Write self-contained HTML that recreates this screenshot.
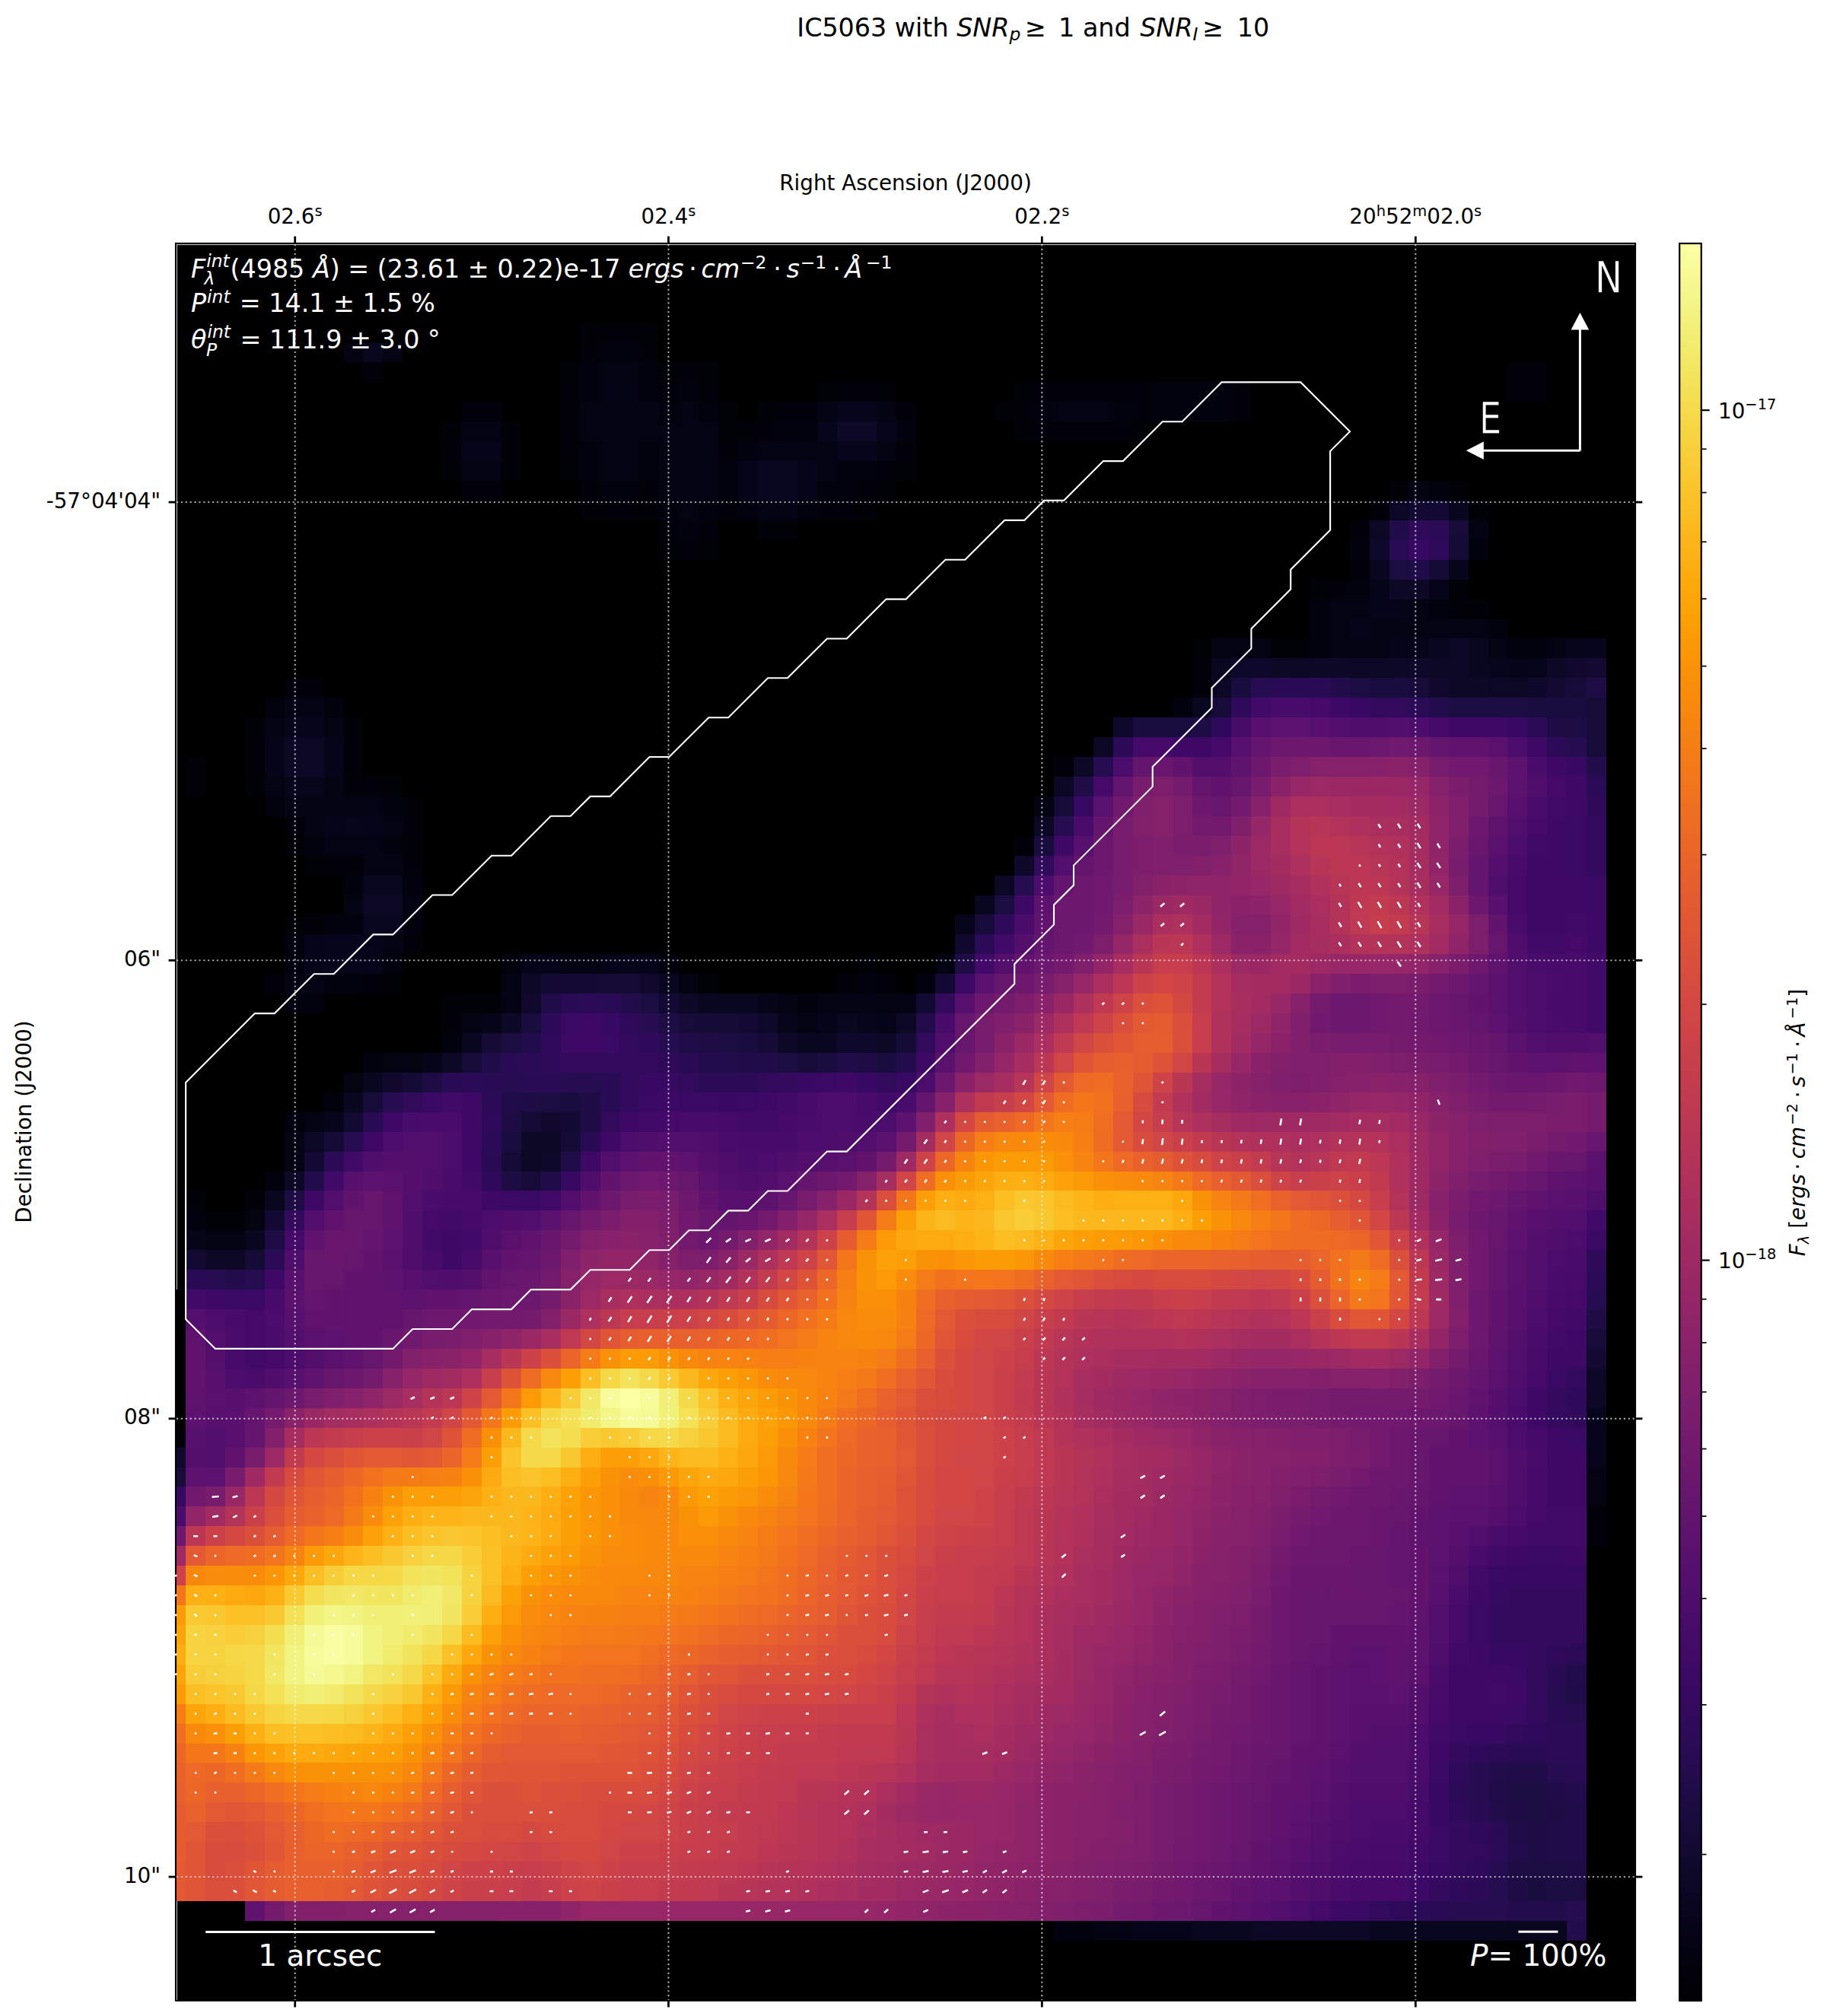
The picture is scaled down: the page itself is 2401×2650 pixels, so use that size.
<!DOCTYPE html>
<html><head><meta charset="utf-8"><title>IC5063 polarization map</title>
<style>html,body{margin:0;padding:0;background:#fff}svg{display:block}</style></head>
<body>
<svg width="2401" height="2650" viewBox="0 0 2401 2650">
<rect x="0" y="0" width="2401" height="2650" fill="#ffffff"/>
<rect x="229.9" y="318.9" width="1920.2" height="2311.9" fill="#000000"/>
<defs><clipPath id="axclip"><rect x="232.0" y="321.0" width="1917.0" height="2308.0"/></clipPath></defs>
<g clip-path="url(#axclip)"><g transform="translate(218.20 320.85) scale(25.930)" shape-rendering="crispEdges">
<path fill="#010108" d="M21 4h1v1h-1zM24 4h1v1h-1zM20 6h1v1h-1zM25 6h1v1h-1zM27 6h1v1h-1zM33 7h1v1h-1zM36 7h1v1h-1zM43 7h1v1h-1zM28 8h1v1h-1zM30 8h1v1h-1zM42 8h1v1h-1zM14 9h1v1h-1zM17 9h1v1h-1zM28 9h2v1h-2zM43 9h1v1h-1zM49 9h1v1h-1zM14 11h1v1h-1zM17 11h1v1h-1zM20 11h1v1h-1zM37 11h1v1h-1zM36 12h1v1h-1zM65 12h1v1h-1zM21 13h1v1h-1zM24 13h1v1h-1zM35 13h1v1h-1zM66 13h1v1h-1zM30 14h2v1h-2zM25 15h1v1h-1zM27 15h1v1h-1zM58 17h1v1h-1zM65 17h1v1h-1zM66 18h1v1h-1zM52 20h1v1h-1zM56 20h2v1h-2zM4 24h1v1h-1zM9 24h1v1h-1zM4 27h1v1h-1zM11 27h1v1h-1zM12 28h1v1h-1zM6 30h1v1h-1zM12 30h1v1h-1zM7 31h1v1h-1zM6 34h1v1h-1zM35 36h1v1h-1zM11 37h1v1h-1zM27 37h1v1h-1zM14 38h3v1h-3zM1 48h1v1h-1zM2 49h2v1h-2z"/>
<path fill="#02010a" d="M22 4h2v1h-2zM21 5h1v1h-1zM24 5h1v1h-1zM10 6h1v1h-1zM26 6h1v1h-1zM68 6h2v1h-2zM20 7h1v1h-1zM25 7h1v1h-1zM27 7h1v1h-1zM34 7h2v1h-2zM44 7h6v1h-6zM54 7h1v1h-1zM68 7h2v1h-2zM15 8h2v1h-2zM20 8h1v1h-1zM31 8h2v1h-2zM37 8h1v1h-1zM43 8h1v1h-1zM49 8h1v1h-1zM54 8h1v1h-1zM20 9h1v1h-1zM30 9h1v1h-1zM44 9h5v1h-5zM14 10h1v1h-1zM17 10h1v1h-1zM20 10h1v1h-1zM28 10h1v1h-1zM37 10h1v1h-1zM36 11h1v1h-1zM15 12h2v1h-2zM21 12h1v1h-1zM24 12h1v1h-1zM35 12h1v1h-1zM62 12h1v1h-1zM22 13h2v1h-2zM28 13h1v1h-1zM33 13h2v1h-2zM61 13h1v1h-1zM25 14h1v1h-1zM27 14h1v1h-1zM60 14h1v1h-1zM26 15h1v1h-1zM60 16h1v1h-1zM59 17h1v1h-1zM65 18h1v1h-1zM52 21h1v1h-1zM6 22h2v1h-2zM52 22h1v1h-1zM4 25h1v1h-1zM9 25h1v1h-1zM1 26h1v1h-1zM4 26h1v1h-1zM9 26h1v1h-1zM45 26h1v1h-1zM1 27h1v1h-1zM9 27h2v1h-2zM6 29h1v1h-1zM12 29h1v1h-1zM43 30h1v1h-1zM8 31h2v1h-2zM12 31h1v1h-1zM7 34h1v1h-1zM12 35h1v1h-1zM5 37h1v1h-1zM10 37h1v1h-1zM34 37h1v1h-1zM36 37h1v1h-1zM14 39h1v1h-1zM4 48h1v1h-1zM0 60h1v1h-1zM72 64h1v1h-1zM72 65h1v1h-1z"/>
<path fill="#02020e" d="M22 5h2v1h-2zM21 6h1v1h-1zM24 6h1v1h-1zM21 7h1v1h-1zM24 7h1v1h-1zM26 7h1v1h-1zM50 7h4v1h-4zM25 8h1v1h-1zM27 8h1v1h-1zM44 8h1v1h-1zM48 8h1v1h-1zM50 8h4v1h-4zM31 9h2v1h-2zM37 9h1v1h-1zM21 10h1v1h-1zM24 10h1v1h-1zM29 10h1v1h-1zM21 11h1v1h-1zM24 11h1v1h-1zM28 11h1v1h-1zM34 11h2v1h-2zM22 12h2v1h-2zM28 12h1v1h-1zM33 12h2v1h-2zM64 12h1v1h-1zM25 13h1v1h-1zM27 13h1v1h-1zM29 13h1v1h-1zM32 13h1v1h-1zM26 14h1v1h-1zM60 15h1v1h-1zM66 15h1v1h-1zM60 17h1v1h-1zM58 18h1v1h-1zM64 18h1v1h-1zM58 19h1v1h-1zM67 19h1v1h-1zM58 20h1v1h-1zM68 20h2v1h-2zM5 23h1v1h-1zM8 23h1v1h-1zM51 23h1v1h-1zM5 28h1v1h-1zM11 28h1v1h-1zM7 30h1v1h-1zM11 30h1v1h-1zM9 32h1v1h-1zM12 32h1v1h-1zM8 34h2v1h-2zM12 34h1v1h-1zM6 35h1v1h-1zM6 36h1v1h-1zM11 36h1v1h-1zM17 36h1v1h-1zM25 36h1v1h-1zM8 37h2v1h-2zM35 37h1v1h-1zM38 37h1v1h-1zM6 38h2v1h-2zM32 38h1v1h-1zM14 40h1v1h-1zM10 41h1v1h-1zM8 43h1v1h-1zM6 44h1v1h-1zM5 47h1v1h-1zM1 49h1v1h-1zM45 85h2v1h-2z"/>
<path fill="#040312" d="M9 5h1v1h-1zM11 5h1v1h-1zM22 6h2v1h-2zM21 8h1v1h-1zM24 8h1v1h-1zM26 8h1v1h-1zM45 8h3v1h-3zM21 9h1v1h-1zM24 9h2v1h-2zM27 9h1v1h-1zM25 10h1v1h-1zM27 10h1v1h-1zM32 10h1v1h-1zM22 11h2v1h-2zM25 11h1v1h-1zM27 11h1v1h-1zM33 11h1v1h-1zM25 12h1v1h-1zM27 12h1v1h-1zM63 12h1v1h-1zM26 13h1v1h-1zM66 14h1v1h-1zM53 20h1v1h-1zM55 20h1v1h-1zM5 24h1v1h-1zM8 24h1v1h-1zM5 27h1v1h-1zM8 27h1v1h-1zM44 28h1v1h-1zM7 29h1v1h-1zM11 29h1v1h-1zM9 33h1v1h-1zM12 33h1v1h-1zM20 36h2v1h-2zM39 36h1v1h-1zM17 37h1v1h-1zM26 37h1v1h-1zM31 38h1v1h-1zM33 38h1v1h-1zM36 38h1v1h-1zM15 39h1v1h-1zM11 41h2v1h-2zM9 42h1v1h-1zM4 49h1v1h-1zM2 50h2v1h-2zM72 63h1v1h-1zM47 85h1v1h-1z"/>
<path fill="#040314" d="M22 7h2v1h-2zM22 8h2v1h-2zM33 8h1v1h-1zM36 8h1v1h-1zM15 9h2v1h-2zM22 9h2v1h-2zM26 9h1v1h-1zM22 10h2v1h-2zM26 10h1v1h-1zM30 10h2v1h-2zM33 10h1v1h-1zM36 10h1v1h-1zM15 11h2v1h-2zM26 11h1v1h-1zM26 12h1v1h-1zM30 13h2v1h-2zM59 18h2v1h-2zM63 18h1v1h-1zM59 19h1v1h-1zM61 19h6v1h-6zM54 20h1v1h-1zM59 20h3v1h-3zM67 20h1v1h-1zM70 20h1v1h-1zM6 23h2v1h-2zM6 28h5v1h-5zM8 30h3v1h-3zM10 31h2v1h-2zM11 35h1v1h-1zM6 37h2v1h-2zM17 38h1v1h-1zM34 38h2v1h-2zM37 38h1v1h-1zM32 39h1v1h-1zM7 44h1v1h-1zM6 45h1v1h-1zM6 46h1v1h-1zM72 62h1v1h-1zM48 85h1v1h-1z"/>
<path fill="#060419" d="M15 10h2v1h-2zM29 11h1v1h-1zM32 11h1v1h-1zM29 12h1v1h-1zM32 12h1v1h-1zM61 17h1v1h-1zM64 17h1v1h-1zM61 18h2v1h-2zM60 19h1v1h-1zM62 20h1v1h-1zM68 21h1v1h-1zM5 25h1v1h-1zM8 25h1v1h-1zM5 26h1v1h-1zM8 26h1v1h-1zM8 29h1v1h-1zM10 29h1v1h-1zM7 35h1v1h-1zM10 35h1v1h-1zM7 36h1v1h-1zM10 36h1v1h-1zM18 36h2v1h-2zM22 36h1v1h-1zM24 36h1v1h-1zM30 38h1v1h-1zM16 39h1v1h-1zM33 39h1v1h-1zM36 39h1v1h-1zM13 41h1v1h-1zM1 50h1v1h-1zM49 85h3v1h-3z"/>
<path fill="#07051b" d="M34 8h2v1h-2zM33 9h1v1h-1zM36 9h1v1h-1zM34 10h2v1h-2zM65 16h1v1h-1zM63 20h1v1h-1zM71 20h2v1h-2zM67 21h1v1h-1zM69 21h1v1h-1zM6 24h2v1h-2zM6 27h2v1h-2zM9 29h1v1h-1zM40 34h1v1h-1zM8 35h2v1h-2zM8 36h2v1h-2zM23 36h1v1h-1zM31 39h1v1h-1zM35 39h1v1h-1zM8 44h1v1h-1zM72 59h1v1h-1zM72 60h1v1h-1zM72 61h1v1h-1z"/>
<path fill="#09061f" d="M10 5h1v1h-1zM30 11h2v1h-2zM30 12h2v1h-2zM65 13h1v1h-1zM61 16h1v1h-1zM64 20h1v1h-1zM66 20h1v1h-1zM53 21h1v1h-1zM66 21h1v1h-1zM52 23h1v1h-1zM10 32h2v1h-2zM41 33h1v1h-1zM10 34h2v1h-2zM25 37h1v1h-1zM27 38h3v1h-3zM34 39h1v1h-1zM15 40h1v1h-1zM32 40h2v1h-2zM10 42h1v1h-1zM9 43h1v1h-1zM5 48h1v1h-1zM4 50h1v1h-1zM52 85h3v1h-3zM61 85h10v1h-10z"/>
<path fill="#0b0724" d="M62 13h1v1h-1zM61 14h1v1h-1zM65 20h1v1h-1zM57 21h1v1h-1zM60 21h2v1h-2zM53 22h1v1h-1zM67 22h2v1h-2zM6 25h2v1h-2zM47 25h1v1h-1zM6 26h2v1h-2zM45 27h1v1h-1zM44 29h1v1h-1zM42 32h1v1h-1zM10 33h2v1h-2zM7 45h1v1h-1zM19 45h1v1h-1zM18 46h1v1h-1zM72 58h1v1h-1zM55 85h1v1h-1z"/>
<path fill="#0c0826" d="M34 9h2v1h-2zM62 17h2v1h-2zM56 21h1v1h-1zM58 21h2v1h-2zM62 21h1v1h-1zM64 21h2v1h-2zM70 21h1v1h-1zM65 22h2v1h-2zM46 26h1v1h-1zM18 37h1v1h-1zM26 38h1v1h-1zM17 39h1v1h-1zM37 39h1v1h-1zM31 40h1v1h-1zM36 40h1v1h-1zM14 41h1v1h-1zM18 45h1v1h-1zM6 47h1v1h-1zM2 51h2v1h-2zM72 57h1v1h-1zM56 85h5v1h-5z"/>
<path fill="#0e092b" d="M61 15h1v1h-1zM54 21h2v1h-2zM63 21h1v1h-1zM69 22h1v1h-1zM48 24h1v1h-1zM43 31h1v1h-1zM30 39h1v1h-1zM34 40h2v1h-2zM19 46h1v1h-1z"/>
<path fill="#10092d" d="M71 21h1v1h-1zM64 22h1v1h-1zM40 35h1v1h-1zM24 37h1v1h-1zM18 38h1v1h-1zM11 42h1v1h-1zM19 44h1v1h-1zM0 61h1v1h-1z"/>
<path fill="#120a32" d="M63 13h2v1h-2zM72 21h1v1h-1zM70 22h1v1h-1zM19 37h3v1h-3zM39 37h1v1h-1zM25 38h1v1h-1zM38 38h1v1h-1zM29 39h1v1h-1zM9 44h1v1h-1zM20 44h1v1h-1zM7 46h1v1h-1zM5 49h1v1h-1zM1 51h1v1h-1zM72 56h1v1h-1z"/>
<path fill="#150b37" d="M65 15h1v1h-1zM64 16h1v1h-1zM22 37h2v1h-2zM27 39h2v1h-2zM16 40h1v1h-1zM30 40h1v1h-1zM37 40h1v1h-1zM12 42h1v1h-1zM18 44h1v1h-1zM8 45h1v1h-1zM20 45h1v1h-1zM17 46h1v1h-1zM4 51h1v1h-1z"/>
<path fill="#160b39" d="M65 14h1v1h-1zM63 22h1v1h-1zM71 22h1v1h-1zM53 23h1v1h-1zM72 23h1v1h-1zM72 24h1v1h-1zM72 25h1v1h-1zM45 28h1v1h-1zM41 34h1v1h-1zM26 39h1v1h-1zM15 41h1v1h-1zM32 41h1v1h-1zM10 43h1v1h-1zM18 47h1v1h-1zM72 55h1v1h-1zM0 62h1v1h-1z"/>
<path fill="#190c3e" d="M54 22h1v1h-1zM61 22h2v1h-2zM69 23h3v1h-3zM49 24h3v1h-3zM44 30h1v1h-1zM18 39h1v1h-1zM29 40h1v1h-1zM33 41h1v1h-1zM36 41h1v1h-1zM20 43h1v1h-1zM17 45h1v1h-1zM69 83h1v1h-1z"/>
<path fill="#1b0c41" d="M62 16h1v1h-1zM60 22h1v1h-1zM65 23h4v1h-4zM71 24h1v1h-1zM42 33h1v1h-1zM24 38h1v1h-1zM17 40h1v1h-1zM28 40h1v1h-1zM31 41h1v1h-1zM19 43h1v1h-1zM68 78h2v1h-2zM69 79h1v1h-1zM69 82h2v1h-2zM70 83h2v1h-2z"/>
<path fill="#1e0c45" d="M72 22h1v1h-1zM52 24h1v1h-1zM70 24h1v1h-1zM40 36h1v1h-1zM25 39h1v1h-1zM27 40h1v1h-1zM35 41h1v1h-1zM13 42h1v1h-1zM18 43h1v1h-1zM21 43h1v1h-1zM17 44h1v1h-1zM21 44h1v1h-1zM17 47h1v1h-1zM6 48h1v1h-1zM5 50h1v1h-1zM72 54h1v1h-1zM68 79h1v1h-1zM70 79h1v1h-1zM69 80h1v1h-1zM69 81h1v1h-1zM68 82h1v1h-1zM71 82h1v1h-1zM68 83h1v1h-1z"/>
<path fill="#210c4a" d="M62 14h1v1h-1zM63 16h1v1h-1zM46 27h1v1h-1zM19 38h1v1h-1zM26 40h1v1h-1zM16 41h1v1h-1zM29 41h2v1h-2zM34 41h1v1h-1zM17 43h1v1h-1zM20 46h1v1h-1zM19 47h1v1h-1zM71 73h1v1h-1zM68 77h2v1h-2zM67 78h1v1h-1zM70 78h1v1h-1zM71 79h1v1h-1zM68 80h1v1h-1zM70 80h2v1h-2zM70 81h2v1h-2z"/>
<path fill="#230c4c" d="M59 22h1v1h-1zM64 23h1v1h-1zM72 26h1v1h-1zM23 38h1v1h-1zM38 39h1v1h-1zM18 40h1v1h-1zM27 41h2v1h-2zM37 41h1v1h-1zM7 47h1v1h-1zM3 52h1v1h-1zM71 72h1v1h-1zM67 77h1v1h-1zM71 78h1v1h-1zM67 79h1v1h-1zM68 81h1v1h-1zM68 84h3v1h-3zM71 85h1v1h-1z"/>
<path fill="#260c51" d="M55 22h1v1h-1zM71 25h1v1h-1zM47 26h1v1h-1zM45 29h1v1h-1zM43 32h1v1h-1zM24 39h1v1h-1zM25 40h1v1h-1zM17 42h1v1h-1zM20 42h2v1h-2zM11 43h1v1h-1zM9 45h1v1h-1zM2 52h1v1h-1zM4 52h1v1h-1zM72 53h1v1h-1zM70 73h1v1h-1zM71 74h1v1h-1zM66 77h1v1h-1zM70 77h1v1h-1zM66 78h1v1h-1zM67 82h1v1h-1zM67 83h1v1h-1zM65 84h3v1h-3zM71 84h1v1h-1z"/>
<path fill="#290b55" d="M62 15h1v1h-1zM56 22h3v1h-3zM20 38h1v1h-1zM22 38h1v1h-1zM17 41h1v1h-1zM26 41h1v1h-1zM14 42h1v1h-1zM16 42h1v1h-1zM18 42h2v1h-2zM22 42h1v1h-1zM22 43h1v1h-1zM10 44h1v1h-1zM21 45h1v1h-1zM16 46h1v1h-1zM1 52h1v1h-1zM70 72h1v1h-1zM70 74h1v1h-1zM68 76h2v1h-2zM71 77h1v1h-1zM66 79h1v1h-1zM67 80h1v1h-1zM64 84h1v1h-1z"/>
<path fill="#2b0b57" d="M64 14h1v1h-1zM63 23h1v1h-1zM69 24h1v1h-1zM48 25h1v1h-1zM70 25h1v1h-1zM72 27h1v1h-1zM41 35h1v1h-1zM21 38h1v1h-1zM19 39h1v1h-1zM18 41h1v1h-1zM15 42h1v1h-1zM27 42h3v1h-3zM16 43h1v1h-1zM16 45h1v1h-1zM8 46h1v1h-1zM5 51h1v1h-1zM72 52h1v1h-1zM71 71h1v1h-1zM70 75h2v1h-2zM67 76h1v1h-1zM70 76h2v1h-2zM65 78h1v1h-1zM67 81h1v1h-1zM66 83h1v1h-1zM63 84h1v1h-1z"/>
<path fill="#2f0a5b" d="M63 14h1v1h-1zM64 15h1v1h-1zM54 23h1v1h-1zM53 24h1v1h-1zM72 28h1v1h-1zM42 34h1v1h-1zM23 39h1v1h-1zM19 40h1v1h-1zM24 40h1v1h-1zM19 41h1v1h-1zM25 41h1v1h-1zM16 44h1v1h-1zM16 47h1v1h-1zM72 51h1v1h-1zM71 58h1v1h-1zM70 71h1v1h-1zM69 75h1v1h-1zM66 76h1v1h-1zM65 77h1v1h-1zM65 79h1v1h-1zM66 80h1v1h-1zM66 82h1v1h-1zM65 83h1v1h-1zM62 84h1v1h-1z"/>
<path fill="#310a5c" d="M61 23h2v1h-2zM44 31h1v1h-1zM39 38h1v1h-1zM23 40h1v1h-1zM38 40h1v1h-1zM23 41h2v1h-2zM23 42h1v1h-1zM26 42h1v1h-1zM30 42h1v1h-1zM36 42h1v1h-1zM12 43h1v1h-1zM22 44h1v1h-1zM71 59h1v1h-1zM71 70h1v1h-1zM69 72h1v1h-1zM69 73h1v1h-1zM69 74h1v1h-1zM68 75h1v1h-1zM66 81h1v1h-1zM65 82h1v1h-1z"/>
<path fill="#340a5f" d="M72 29h1v1h-1zM72 30h1v1h-1zM72 31h1v1h-1zM20 41h3v1h-3zM31 42h1v1h-1zM23 43h1v1h-1zM6 49h1v1h-1zM71 57h1v1h-1zM70 58h1v1h-1zM70 59h1v1h-1zM0 63h1v1h-1zM68 68h4v1h-4zM67 69h5v1h-5zM67 70h4v1h-4zM69 71h1v1h-1zM65 76h1v1h-1zM65 80h1v1h-1zM65 81h1v1h-1zM64 83h1v1h-1zM61 84h1v1h-1z"/>
<path fill="#380962" d="M63 15h1v1h-1zM60 23h1v1h-1zM68 24h1v1h-1zM71 26h1v1h-1zM46 28h1v1h-1zM22 39h1v1h-1zM24 42h2v1h-2zM32 42h1v1h-1zM35 42h1v1h-1zM37 42h1v1h-1zM28 43h1v1h-1zM20 47h1v1h-1zM68 67h4v1h-4zM67 68h1v1h-1zM67 71h2v1h-2zM66 75h2v1h-2zM64 78h1v1h-1zM64 79h1v1h-1zM64 82h1v1h-1z"/>
<path fill="#390963" d="M71 29h1v1h-1zM71 30h1v1h-1zM71 31h1v1h-1zM72 32h1v1h-1zM72 33h1v1h-1zM40 37h1v1h-1zM20 39h1v1h-1zM22 40h1v1h-1zM33 42h1v1h-1zM13 43h1v1h-1zM24 43h1v1h-1zM26 43h2v1h-2zM29 43h1v1h-1zM17 48h2v1h-2zM72 50h1v1h-1zM3 53h2v1h-2zM70 57h1v1h-1zM71 60h1v1h-1zM69 66h2v1h-2zM67 67h1v1h-1zM66 69h1v1h-1zM66 70h1v1h-1zM68 72h1v1h-1zM68 74h1v1h-1zM65 75h1v1h-1zM64 77h1v1h-1zM64 80h1v1h-1zM64 81h1v1h-1zM60 84h1v1h-1z"/>
<path fill="#3d0965" d="M52 25h1v1h-1zM69 25h1v1h-1zM70 26h1v1h-1zM71 28h1v1h-1zM70 29h1v1h-1zM45 30h1v1h-1zM70 30h1v1h-1zM70 31h1v1h-1zM70 32h2v1h-2zM43 33h1v1h-1zM69 33h2v1h-2zM69 34h1v1h-1zM72 34h1v1h-1zM72 35h1v1h-1zM21 39h1v1h-1zM20 40h1v1h-1zM38 41h1v1h-1zM34 42h1v1h-1zM15 43h1v1h-1zM25 43h1v1h-1zM30 43h1v1h-1zM10 45h1v1h-1zM21 46h1v1h-1zM7 48h1v1h-1zM14 50h1v1h-1zM5 52h1v1h-1zM71 56h1v1h-1zM70 60h1v1h-1zM71 61h1v1h-1zM71 62h1v1h-1zM71 63h1v1h-1zM68 66h1v1h-1zM71 66h1v1h-1zM66 68h1v1h-1zM66 71h1v1h-1zM68 73h1v1h-1zM65 74h1v1h-1zM59 84h1v1h-1z"/>
<path fill="#3e0966" d="M59 23h1v1h-1zM65 24h3v1h-3zM51 25h1v1h-1zM71 27h1v1h-1zM69 31h1v1h-1zM69 32h1v1h-1zM71 33h1v1h-1zM70 34h1v1h-1zM21 40h1v1h-1zM11 44h1v1h-1zM15 44h1v1h-1zM23 44h1v1h-1zM15 45h1v1h-1zM22 45h1v1h-1zM15 46h1v1h-1zM16 48h1v1h-1zM14 51h1v1h-1zM2 53h1v1h-1zM71 55h1v1h-1zM70 56h1v1h-1zM69 58h1v1h-1zM69 59h1v1h-1zM70 61h1v1h-1zM70 62h1v1h-1zM70 63h1v1h-1zM65 72h3v1h-3zM65 73h2v1h-2zM66 74h2v1h-2zM64 76h1v1h-1zM63 82h1v1h-1zM63 83h1v1h-1z"/>
<path fill="#420a68" d="M55 23h1v1h-1zM70 28h1v1h-1zM69 30h1v1h-1zM71 34h1v1h-1zM42 35h1v1h-1zM69 35h2v1h-2zM41 36h1v1h-1zM72 36h1v1h-1zM72 37h1v1h-1zM72 38h1v1h-1zM72 39h1v1h-1zM14 43h1v1h-1zM31 43h1v1h-1zM36 43h1v1h-1zM24 44h1v1h-1zM29 44h2v1h-2zM9 46h1v1h-1zM8 47h1v1h-1zM15 47h1v1h-1zM19 48h1v1h-1zM14 49h1v1h-1zM72 49h1v1h-1zM13 50h1v1h-1zM15 50h1v1h-1zM1 53h1v1h-1zM71 54h1v1h-1zM70 55h1v1h-1zM4 56h1v1h-1zM70 64h2v1h-2zM69 65h3v1h-3zM67 66h1v1h-1zM66 67h1v1h-1zM65 71h1v1h-1zM67 73h1v1h-1zM64 75h1v1h-1zM63 81h1v1h-1z"/>
<path fill="#450a69" d="M58 23h1v1h-1zM64 24h1v1h-1zM49 25h2v1h-2zM53 25h1v1h-1zM47 27h1v1h-1zM70 27h1v1h-1zM69 29h1v1h-1zM68 32h1v1h-1zM68 33h1v1h-1zM71 35h1v1h-1zM25 44h1v1h-1zM28 44h1v1h-1zM31 44h1v1h-1zM13 49h1v1h-1zM15 49h1v1h-1zM6 50h1v1h-1zM71 53h1v1h-1zM4 54h1v1h-1zM70 54h1v1h-1zM4 55h1v1h-1zM5 56h1v1h-1zM69 57h1v1h-1zM69 60h1v1h-1zM69 62h1v1h-1zM69 63h1v1h-1zM69 64h1v1h-1zM68 65h1v1h-1zM65 69h1v1h-1zM65 70h1v1h-1zM64 74h1v1h-1zM63 79h1v1h-1zM63 80h1v1h-1zM61 82h2v1h-2zM60 83h3v1h-3zM58 84h1v1h-1z"/>
<path fill="#470b6a" d="M56 23h2v1h-2zM54 24h1v1h-1zM68 31h1v1h-1zM70 36h2v1h-2zM71 37h1v1h-1zM70 38h2v1h-2zM39 39h1v1h-1zM71 39h1v1h-1zM32 43h1v1h-1zM35 43h1v1h-1zM12 44h1v1h-1zM26 44h2v1h-2zM29 45h3v1h-3zM14 48h2v1h-2zM13 51h1v1h-1zM15 51h1v1h-1zM71 52h1v1h-1zM5 53h1v1h-1zM70 53h1v1h-1zM3 54h1v1h-1zM3 56h1v1h-1zM69 56h1v1h-1zM69 61h1v1h-1zM64 73h1v1h-1zM63 78h1v1h-1zM61 81h2v1h-2zM60 82h1v1h-1z"/>
<path fill="#4a0c6b" d="M69 26h1v1h-1zM69 28h1v1h-1zM46 29h1v1h-1zM43 34h1v1h-1zM68 34h1v1h-1zM69 36h1v1h-1zM70 37h1v1h-1zM70 39h1v1h-1zM37 43h1v1h-1zM13 44h2v1h-2zM32 44h1v1h-1zM35 44h1v1h-1zM28 45h1v1h-1zM29 46h1v1h-1zM14 47h1v1h-1zM13 48h1v1h-1zM71 51h1v1h-1zM70 52h1v1h-1zM3 55h1v1h-1zM5 55h1v1h-1zM69 55h1v1h-1zM4 57h1v1h-1zM68 59h1v1h-1zM0 64h1v1h-1zM67 65h1v1h-1zM66 66h1v1h-1zM65 68h1v1h-1zM64 72h1v1h-1zM63 77h1v1h-1zM61 80h2v1h-2zM60 81h1v1h-1zM59 82h1v1h-1zM59 83h1v1h-1z"/>
<path fill="#4c0c6b" d="M63 24h1v1h-1zM68 25h1v1h-1zM48 26h1v1h-1zM68 30h1v1h-1zM44 32h1v1h-1zM69 37h1v1h-1zM69 38h1v1h-1zM69 39h1v1h-1zM38 42h1v1h-1zM33 43h2v1h-2zM33 44h2v1h-2zM36 44h1v1h-1zM11 45h1v1h-1zM14 45h1v1h-1zM23 45h1v1h-1zM32 45h2v1h-2zM14 46h1v1h-1zM30 46h1v1h-1zM16 49h1v1h-1zM71 50h1v1h-1zM70 51h1v1h-1zM2 54h1v1h-1zM5 54h1v1h-1zM69 54h1v1h-1zM6 56h1v1h-1zM3 57h1v1h-1zM68 58h1v1h-1zM68 60h1v1h-1zM68 64h1v1h-1zM63 75h1v1h-1zM63 76h1v1h-1zM60 79h3v1h-3zM60 80h1v1h-1zM59 81h1v1h-1zM57 84h1v1h-1z"/>
<path fill="#4f0d6c" d="M60 24h2v1h-2zM69 27h1v1h-1zM67 32h1v1h-1zM68 35h1v1h-1zM39 40h1v1h-1zM70 40h2v1h-2zM24 45h1v1h-1zM27 45h1v1h-1zM34 45h1v1h-1zM10 46h1v1h-1zM28 46h1v1h-1zM31 46h1v1h-1zM13 47h1v1h-1zM21 47h1v1h-1zM29 47h1v1h-1zM72 48h1v1h-1zM12 49h1v1h-1zM17 49h1v1h-1zM12 50h1v1h-1zM16 50h1v1h-1zM70 50h1v1h-1zM6 51h1v1h-1zM12 51h1v1h-1zM14 52h1v1h-1zM69 53h1v1h-1zM5 57h1v1h-1zM68 57h1v1h-1zM68 61h1v1h-1zM68 62h1v1h-1zM68 63h1v1h-1zM65 67h1v1h-1zM64 71h1v1h-1zM60 78h3v1h-3zM59 80h1v1h-1zM58 82h1v1h-1zM58 83h1v1h-1z"/>
<path fill="#520e6d" d="M59 24h1v1h-1zM62 24h1v1h-1zM68 29h1v1h-1zM45 31h1v1h-1zM68 36h1v1h-1zM68 37h1v1h-1zM68 38h1v1h-1zM69 40h1v1h-1zM72 40h1v1h-1zM12 45h2v1h-2zM25 45h2v1h-2zM35 45h1v1h-1zM13 46h1v1h-1zM22 46h1v1h-1zM28 47h1v1h-1zM30 47h1v1h-1zM8 48h1v1h-1zM12 48h1v1h-1zM20 48h1v1h-1zM7 49h1v1h-1zM18 49h1v1h-1zM71 49h1v1h-1zM69 51h1v1h-1zM13 52h1v1h-1zM69 52h1v1h-1zM2 55h1v1h-1zM6 55h1v1h-1zM68 56h1v1h-1zM2 60h1v1h-1zM2 61h1v1h-1zM66 65h1v1h-1zM64 69h1v1h-1zM64 70h1v1h-1zM63 74h1v1h-1zM61 76h2v1h-2zM60 77h3v1h-3zM59 79h1v1h-1zM58 81h1v1h-1zM56 84h1v1h-1z"/>
<path fill="#540f6d" d="M52 26h2v1h-2zM67 31h1v1h-1zM43 35h1v1h-1zM42 36h1v1h-1zM68 39h1v1h-1zM11 46h2v1h-2zM27 46h1v1h-1zM32 46h1v1h-1zM12 47h1v1h-1zM70 49h1v1h-1zM69 50h1v1h-1zM15 52h1v1h-1zM1 54h1v1h-1zM68 55h1v1h-1zM2 56h1v1h-1zM7 56h1v1h-1zM67 58h1v1h-1zM67 59h1v1h-1zM1 61h1v1h-1zM67 64h1v1h-1zM65 66h1v1h-1zM63 73h1v1h-1zM61 75h2v1h-2zM60 76h1v1h-1zM59 78h1v1h-1zM58 80h1v1h-1zM57 82h1v1h-1zM57 83h1v1h-1z"/>
<path fill="#57106e" d="M55 24h1v1h-1zM58 24h1v1h-1zM54 25h1v1h-1zM68 28h1v1h-1zM46 30h1v1h-1zM67 33h1v1h-1zM40 38h1v1h-1zM33 46h1v1h-1zM9 47h1v1h-1zM72 47h1v1h-1zM28 48h2v1h-2zM71 48h1v1h-1zM69 49h1v1h-1zM16 51h1v1h-1zM6 52h1v1h-1zM12 52h1v1h-1zM68 53h1v1h-1zM6 54h1v1h-1zM68 54h1v1h-1zM2 57h1v1h-1zM6 57h1v1h-1zM3 58h1v1h-1zM2 59h1v1h-1zM1 60h1v1h-1zM3 60h1v1h-1zM67 60h1v1h-1zM67 63h1v1h-1zM65 65h1v1h-1zM64 68h1v1h-1zM60 74h3v1h-3zM60 75h1v1h-1zM59 77h1v1h-1zM58 79h1v1h-1zM57 81h1v1h-1zM55 84h1v1h-1z"/>
<path fill="#5a116e" d="M67 25h1v1h-1zM47 28h1v1h-1zM67 30h1v1h-1zM41 37h1v1h-1zM67 37h1v1h-1zM67 38h1v1h-1zM68 40h1v1h-1zM39 41h1v1h-1zM36 45h1v1h-1zM34 46h1v1h-1zM72 46h1v1h-1zM11 47h1v1h-1zM27 47h1v1h-1zM31 47h1v1h-1zM70 48h1v1h-1zM19 49h1v1h-1zM17 50h1v1h-1zM11 51h1v1h-1zM68 51h1v1h-1zM68 52h1v1h-1zM6 53h1v1h-1zM7 55h1v1h-1zM8 56h1v1h-1zM67 57h1v1h-1zM2 58h1v1h-1zM3 59h1v1h-1zM67 61h1v1h-1zM67 62h1v1h-1zM65 64h2v1h-2zM64 67h1v1h-1zM60 72h1v1h-1zM63 72h1v1h-1zM60 73h2v1h-2zM59 76h1v1h-1zM58 78h1v1h-1zM57 80h1v1h-1zM56 82h1v1h-1zM56 83h1v1h-1z"/>
<path fill="#5c126e" d="M56 24h2v1h-2zM68 26h1v1h-1zM68 27h1v1h-1zM44 33h1v1h-1zM67 39h1v1h-1zM69 41h2v1h-2zM37 44h1v1h-1zM23 46h1v1h-1zM26 46h1v1h-1zM10 47h1v1h-1zM71 47h1v1h-1zM30 48h1v1h-1zM11 50h1v1h-1zM68 50h1v1h-1zM11 52h1v1h-1zM12 53h1v1h-1zM8 55h1v1h-1zM67 56h1v1h-1zM4 58h1v1h-1zM1 59h1v1h-1zM66 59h1v1h-1zM66 60h1v1h-1zM1 62h2v1h-2zM65 63h2v1h-2zM64 64h1v1h-1zM64 65h1v1h-1zM64 66h1v1h-1zM63 70h1v1h-1zM60 71h2v1h-2zM63 71h1v1h-1zM59 72h1v1h-1zM61 72h1v1h-1zM59 73h1v1h-1zM62 73h1v1h-1zM59 74h1v1h-1zM59 75h1v1h-1zM58 77h1v1h-1zM57 79h1v1h-1zM56 81h1v1h-1zM55 83h1v1h-1zM54 84h1v1h-1z"/>
<path fill="#5f136e" d="M65 25h2v1h-2zM54 26h1v1h-1zM53 27h1v1h-1zM67 29h1v1h-1zM67 36h1v1h-1zM71 41h2v1h-2zM70 47h1v1h-1zM11 48h1v1h-1zM69 48h1v1h-1zM8 49h1v1h-1zM11 49h1v1h-1zM68 49h1v1h-1zM7 50h1v1h-1zM18 50h1v1h-1zM10 52h1v1h-1zM9 53h3v1h-3zM13 53h1v1h-1zM7 54h1v1h-1zM9 54h2v1h-2zM1 55h1v1h-1zM9 55h1v1h-1zM67 55h1v1h-1zM9 56h1v1h-1zM7 57h1v1h-1zM1 58h1v1h-1zM66 58h1v1h-1zM3 61h1v1h-1zM66 61h1v1h-1zM65 62h2v1h-2zM64 63h1v1h-1zM63 65h1v1h-1zM63 69h1v1h-1zM59 71h1v1h-1zM62 71h1v1h-1zM62 72h1v1h-1zM58 76h1v1h-1zM57 77h1v1h-1zM57 78h1v1h-1zM56 79h1v1h-1zM56 80h1v1h-1zM55 82h1v1h-1zM4 84h1v1h-1z"/>
<path fill="#61136e" d="M51 26h1v1h-1zM44 34h1v1h-1zM67 34h1v1h-1zM43 36h1v1h-1zM66 38h1v1h-1zM68 41h1v1h-1zM24 46h2v1h-2zM35 46h1v1h-1zM22 47h1v1h-1zM9 48h1v1h-1zM21 48h1v1h-1zM27 48h1v1h-1zM10 51h1v1h-1zM17 51h1v1h-1zM9 52h1v1h-1zM16 52h1v1h-1zM8 53h1v1h-1zM14 53h1v1h-1zM67 53h1v1h-1zM8 54h1v1h-1zM11 54h1v1h-1zM67 54h1v1h-1zM10 55h1v1h-1zM1 56h1v1h-1zM1 57h1v1h-1zM65 60h1v1h-1zM64 61h2v1h-2zM64 62h1v1h-1zM63 64h1v1h-1zM63 66h1v1h-1zM63 67h1v1h-1zM63 68h1v1h-1zM59 70h4v1h-4zM58 72h1v1h-1zM58 73h1v1h-1zM58 74h1v1h-1zM58 75h1v1h-1zM57 76h1v1h-1zM56 78h1v1h-1zM55 81h1v1h-1zM54 83h1v1h-1zM53 84h1v1h-1z"/>
<path fill="#64156e" d="M55 25h1v1h-1zM64 25h1v1h-1zM49 26h1v1h-1zM48 27h1v1h-1zM52 27h1v1h-1zM47 29h1v1h-1zM46 31h1v1h-1zM66 31h1v1h-1zM45 32h1v1h-1zM66 32h1v1h-1zM44 35h1v1h-1zM66 37h1v1h-1zM66 39h1v1h-1zM67 40h1v1h-1zM38 43h1v1h-1zM32 47h1v1h-1zM68 48h1v1h-1zM28 49h1v1h-1zM10 50h1v1h-1zM18 51h1v1h-1zM67 51h1v1h-1zM67 52h1v1h-1zM7 53h1v1h-1zM15 53h1v1h-1zM66 57h1v1h-1zM5 58h1v1h-1zM4 59h1v1h-1zM4 60h1v1h-1zM63 63h1v1h-1zM62 65h1v1h-1zM62 66h1v1h-1zM62 67h1v1h-1zM62 69h1v1h-1zM58 71h1v1h-1zM57 72h1v1h-1zM57 73h1v1h-1zM57 74h1v1h-1zM57 75h1v1h-1zM56 77h1v1h-1zM55 79h1v1h-1zM55 80h1v1h-1zM54 82h1v1h-1z"/>
<path fill="#67166e" d="M54 27h1v1h-1zM53 28h1v1h-1zM67 28h1v1h-1zM67 35h1v1h-1zM42 37h1v1h-1zM65 38h1v1h-1zM40 39h1v1h-1zM40 40h1v1h-1zM67 41h1v1h-1zM72 45h1v1h-1zM71 46h1v1h-1zM26 47h1v1h-1zM69 47h1v1h-1zM10 48h1v1h-1zM9 49h2v1h-2zM20 49h1v1h-1zM67 49h1v1h-1zM67 50h1v1h-1zM7 51h1v1h-1zM9 51h1v1h-1zM7 52h2v1h-2zM17 52h1v1h-1zM12 54h1v1h-1zM10 56h1v1h-1zM8 57h1v1h-1zM65 59h1v1h-1zM64 60h1v1h-1zM63 61h1v1h-1zM63 62h1v1h-1zM62 64h1v1h-1zM61 66h1v1h-1zM60 67h2v1h-2zM58 68h1v1h-1zM61 68h2v1h-2zM58 69h4v1h-4zM58 70h1v1h-1zM57 71h1v1h-1zM56 76h1v1h-1zM55 77h1v1h-1zM55 78h1v1h-1zM54 81h1v1h-1zM52 84h1v1h-1z"/>
<path fill="#69166e" d="M59 25h2v1h-2zM50 26h1v1h-1zM67 26h1v1h-1zM66 30h1v1h-1zM65 39h1v1h-1zM66 40h1v1h-1zM68 42h2v1h-2zM70 46h1v1h-1zM31 48h1v1h-1zM27 49h1v1h-1zM29 49h1v1h-1zM8 50h2v1h-2zM19 50h1v1h-1zM8 51h1v1h-1zM18 52h1v1h-1zM16 53h1v1h-1zM11 55h1v1h-1zM66 56h1v1h-1zM65 58h1v1h-1zM63 60h1v1h-1zM62 63h1v1h-1zM61 64h1v1h-1zM61 65h1v1h-1zM60 66h1v1h-1zM57 67h3v1h-3zM57 68h1v1h-1zM59 68h2v1h-2zM57 69h1v1h-1zM57 70h1v1h-1zM56 72h1v1h-1zM56 73h1v1h-1zM56 74h1v1h-1zM56 75h1v1h-1zM55 76h1v1h-1zM54 78h1v1h-1zM54 79h1v1h-1zM54 80h1v1h-1zM53 82h1v1h-1zM53 83h1v1h-1z"/>
<path fill="#6c186e" d="M56 25h1v1h-1zM58 25h1v1h-1zM61 25h1v1h-1zM63 25h1v1h-1zM67 27h1v1h-1zM47 30h1v1h-1zM46 32h1v1h-1zM45 33h1v1h-1zM45 34h2v1h-2zM45 35h1v1h-1zM44 36h1v1h-1zM65 37h1v1h-1zM59 38h2v1h-2zM59 39h1v1h-1zM39 42h1v1h-1zM67 42h1v1h-1zM23 47h1v1h-1zM33 47h1v1h-1zM67 48h1v1h-1zM17 53h2v1h-2zM13 54h1v1h-1zM66 55h1v1h-1zM9 57h1v1h-1zM64 59h1v1h-1zM62 61h1v1h-1zM62 62h1v1h-1zM61 63h1v1h-1zM0 65h1v1h-1zM59 65h2v1h-2zM58 66h2v1h-2zM55 75h1v1h-1zM54 77h1v1h-1zM53 79h1v1h-1zM53 81h1v1h-1zM52 83h1v1h-1zM51 84h1v1h-1z"/>
<path fill="#6d186e" d="M57 25h1v1h-1zM55 26h1v1h-1zM52 28h1v1h-1zM66 29h1v1h-1zM47 31h1v1h-1zM46 33h1v1h-1zM66 33h1v1h-1zM66 36h1v1h-1zM43 37h1v1h-1zM41 38h1v1h-1zM64 38h1v1h-1zM60 39h1v1h-1zM64 39h1v1h-1zM65 40h1v1h-1zM66 41h1v1h-1zM70 42h1v1h-1zM72 42h1v1h-1zM25 47h1v1h-1zM68 47h1v1h-1zM22 48h1v1h-1zM26 48h1v1h-1zM66 49h1v1h-1zM27 50h1v1h-1zM19 51h1v1h-1zM66 53h1v1h-1zM14 54h1v1h-1zM66 54h1v1h-1zM65 57h1v1h-1zM6 58h1v1h-1zM63 59h1v1h-1zM62 60h1v1h-1zM61 62h1v1h-1zM60 63h1v1h-1zM59 64h2v1h-2zM58 65h1v1h-1zM57 66h1v1h-1zM56 68h1v1h-1zM56 69h1v1h-1zM56 70h1v1h-1zM56 71h1v1h-1zM55 73h1v1h-1zM55 74h1v1h-1zM54 76h1v1h-1zM53 78h1v1h-1zM53 80h1v1h-1zM52 82h1v1h-1zM50 84h1v1h-1z"/>
<path fill="#71196e" d="M62 25h1v1h-1zM65 26h2v1h-2zM48 28h1v1h-1zM47 32h1v1h-1zM47 33h1v1h-1zM46 35h1v1h-1zM61 38h1v1h-1zM58 39h1v1h-1zM61 39h1v1h-1zM63 39h1v1h-1zM64 40h1v1h-1zM40 41h1v1h-1zM71 42h1v1h-1zM71 45h1v1h-1zM69 46h1v1h-1zM24 47h1v1h-1zM66 48h1v1h-1zM26 49h1v1h-1zM66 50h1v1h-1zM66 51h1v1h-1zM66 52h1v1h-1zM15 54h1v1h-1zM12 55h1v1h-1zM64 58h1v1h-1zM62 59h1v1h-1zM1 63h1v1h-1zM59 63h1v1h-1zM58 64h1v1h-1zM57 65h1v1h-1zM56 67h1v1h-1zM55 72h1v1h-1zM54 75h1v1h-1zM53 77h1v1h-1zM52 78h1v1h-1zM52 79h1v1h-1zM52 80h1v1h-1zM52 81h1v1h-1zM51 82h1v1h-1zM51 83h1v1h-1z"/>
<path fill="#741a6e" d="M54 28h1v1h-1zM52 29h2v1h-2zM47 34h1v1h-1zM45 36h1v1h-1zM64 37h1v1h-1zM62 38h2v1h-2zM62 39h1v1h-1zM63 40h1v1h-1zM65 41h1v1h-1zM66 42h1v1h-1zM67 43h2v1h-2zM34 47h1v1h-1zM67 47h1v1h-1zM21 49h1v1h-1zM30 49h1v1h-1zM26 50h1v1h-1zM19 52h1v1h-1zM16 54h2v1h-2zM11 56h1v1h-1zM60 59h2v1h-2zM61 60h1v1h-1zM61 61h1v1h-1zM60 62h1v1h-1zM56 66h1v1h-1zM55 71h1v1h-1zM54 73h1v1h-1zM54 74h1v1h-1zM53 75h1v1h-1zM53 76h1v1h-1zM52 77h1v1h-1zM51 81h1v1h-1zM50 83h1v1h-1zM49 84h1v1h-1z"/>
<path fill="#751b6e" d="M51 27h1v1h-1zM66 27h1v1h-1zM66 28h1v1h-1zM42 38h1v1h-1zM58 38h1v1h-1zM62 40h1v1h-1zM69 43h1v1h-1zM72 43h1v1h-1zM72 44h1v1h-1zM37 45h1v1h-1zM70 45h1v1h-1zM36 46h1v1h-1zM20 50h1v1h-1zM28 50h1v1h-1zM19 53h1v1h-1zM18 54h1v1h-1zM65 56h1v1h-1zM10 57h1v1h-1zM64 57h1v1h-1zM59 58h5v1h-5zM5 59h1v1h-1zM59 59h1v1h-1zM58 63h1v1h-1zM57 64h1v1h-1zM55 69h1v1h-1zM55 70h1v1h-1zM54 72h1v1h-1zM53 74h1v1h-1zM52 76h1v1h-1zM51 78h1v1h-1zM51 79h1v1h-1zM51 80h1v1h-1zM50 82h1v1h-1zM5 84h1v1h-1zM48 84h1v1h-1z"/>
<path fill="#781c6d" d="M64 26h1v1h-1zM49 27h1v1h-1zM55 27h1v1h-1zM48 29h1v1h-1zM48 30h1v1h-1zM48 31h1v1h-1zM65 31h1v1h-1zM48 32h1v1h-1zM44 37h1v1h-1zM41 39h1v1h-1zM41 40h1v1h-1zM59 40h3v1h-3zM64 41h1v1h-1zM66 43h1v1h-1zM70 43h1v1h-1zM68 46h1v1h-1zM66 47h1v1h-1zM23 48h1v1h-1zM25 48h1v1h-1zM32 48h1v1h-1zM65 49h1v1h-1zM13 55h1v1h-1zM7 58h1v1h-1zM58 58h1v1h-1zM58 59h1v1h-1zM60 60h1v1h-1zM4 61h1v1h-1zM3 62h1v1h-1zM59 62h1v1h-1zM2 63h1v1h-1zM56 65h1v1h-1zM55 68h1v1h-1zM54 71h1v1h-1zM53 73h1v1h-1zM52 75h1v1h-1zM51 77h1v1h-1zM50 78h1v1h-1zM50 79h1v1h-1zM50 80h1v1h-1zM50 81h1v1h-1zM49 83h1v1h-1z"/>
<path fill="#7a1d6d" d="M56 26h1v1h-1zM65 27h1v1h-1zM51 30h2v1h-2zM65 30h1v1h-1zM65 36h1v1h-1zM60 37h1v1h-1zM63 37h1v1h-1zM58 40h1v1h-1zM63 41h1v1h-1zM65 42h1v1h-1zM71 43h1v1h-1zM70 44h2v1h-2zM69 45h1v1h-1zM67 46h1v1h-1zM24 48h1v1h-1zM65 48h1v1h-1zM22 49h1v1h-1zM14 55h1v1h-1zM56 58h2v1h-2zM56 59h2v1h-2zM60 61h1v1h-1zM57 63h1v1h-1zM56 64h1v1h-1zM55 67h1v1h-1zM54 70h1v1h-1zM53 72h1v1h-1zM52 73h1v1h-1zM52 74h1v1h-1zM51 76h1v1h-1zM50 77h1v1h-1zM49 82h1v1h-1zM48 83h1v1h-1zM47 84h1v1h-1z"/>
<path fill="#7d1e6d" d="M50 27h1v1h-1zM51 28h1v1h-1zM51 29h1v1h-1zM49 30h1v1h-1zM49 31h1v1h-1zM65 32h1v1h-1zM48 33h1v1h-1zM66 34h1v1h-1zM47 35h1v1h-1zM66 35h1v1h-1zM61 37h2v1h-2zM43 38h1v1h-1zM62 41h1v1h-1zM57 42h1v1h-1zM67 44h3v1h-3zM25 49h1v1h-1zM65 50h1v1h-1zM26 51h2v1h-2zM65 55h1v1h-1zM63 57h1v1h-1zM55 58h1v1h-1zM55 59h1v1h-1zM59 60h1v1h-1zM59 61h1v1h-1zM58 62h1v1h-1zM55 66h1v1h-1zM54 69h1v1h-1zM53 70h1v1h-1zM53 71h1v1h-1zM52 72h1v1h-1zM51 74h1v1h-1zM51 75h1v1h-1zM50 76h1v1h-1zM49 78h1v1h-1zM49 79h1v1h-1zM49 80h1v1h-1zM49 81h1v1h-1zM48 82h1v1h-1zM46 84h1v1h-1z"/>
<path fill="#801f6c" d="M57 26h1v1h-1zM49 28h1v1h-1zM65 28h1v1h-1zM54 29h1v1h-1zM65 29h1v1h-1zM50 30h1v1h-1zM53 30h1v1h-1zM50 31h2v1h-2zM46 36h1v1h-1zM59 37h1v1h-1zM42 39h1v1h-1zM57 39h1v1h-1zM57 40h1v1h-1zM57 41h2v1h-2zM61 41h1v1h-1zM56 42h1v1h-1zM58 42h1v1h-1zM64 42h1v1h-1zM65 43h1v1h-1zM38 44h1v1h-1zM66 44h1v1h-1zM67 45h2v1h-2zM66 46h1v1h-1zM65 47h1v1h-1zM25 50h1v1h-1zM20 51h1v1h-1zM65 51h1v1h-1zM65 52h1v1h-1zM65 53h1v1h-1zM15 55h1v1h-1zM8 58h1v1h-1zM54 58h1v1h-1zM54 59h1v1h-1zM57 60h2v1h-2zM57 62h1v1h-1zM56 63h1v1h-1zM55 65h1v1h-1zM54 68h1v1h-1zM53 69h1v1h-1zM52 71h1v1h-1zM51 73h1v1h-1zM50 75h1v1h-1zM49 77h1v1h-1zM48 79h1v1h-1zM48 81h1v1h-1zM47 82h1v1h-1zM47 83h1v1h-1zM45 84h1v1h-1z"/>
<path fill="#82206c" d="M49 29h1v1h-1zM52 31h1v1h-1zM49 32h1v1h-1zM41 41h1v1h-1zM56 41h1v1h-1zM59 41h2v1h-2zM66 45h1v1h-1zM23 49h2v1h-2zM31 49h1v1h-1zM21 50h1v1h-1zM29 50h1v1h-1zM19 54h1v1h-1zM65 54h1v1h-1zM12 56h1v1h-1zM64 56h1v1h-1zM58 57h1v1h-1zM62 57h1v1h-1zM5 60h1v1h-1zM56 60h1v1h-1zM57 61h2v1h-2zM56 62h1v1h-1zM55 64h1v1h-1zM54 66h1v1h-1zM54 67h1v1h-1zM53 68h1v1h-1zM52 69h1v1h-1zM52 70h1v1h-1zM51 71h1v1h-1zM51 72h1v1h-1zM50 73h1v1h-1zM50 74h1v1h-1zM49 76h1v1h-1zM48 77h1v1h-1zM48 78h1v1h-1zM48 80h1v1h-1zM47 81h1v1h-1zM46 82h1v1h-1zM46 83h1v1h-1zM6 84h3v1h-3zM44 84h1v1h-1z"/>
<path fill="#85216b" d="M58 26h3v1h-3zM63 26h1v1h-1zM64 27h1v1h-1zM50 28h1v1h-1zM50 29h1v1h-1zM48 34h1v1h-1zM54 34h2v1h-2zM45 37h1v1h-1zM55 42h1v1h-1zM59 42h1v1h-1zM63 42h1v1h-1zM65 44h1v1h-1zM65 46h1v1h-1zM35 47h1v1h-1zM25 51h1v1h-1zM20 52h1v1h-1zM11 57h1v1h-1zM56 57h2v1h-2zM59 57h2v1h-2zM53 58h1v1h-1zM53 59h1v1h-1zM55 60h1v1h-1zM56 61h1v1h-1zM55 63h1v1h-1zM54 64h1v1h-1zM54 65h1v1h-1zM53 66h1v1h-1zM53 67h1v1h-1zM52 68h1v1h-1zM51 70h1v1h-1zM49 74h1v1h-1zM49 75h1v1h-1zM47 78h1v1h-1zM47 79h1v1h-1zM47 80h1v1h-1zM46 81h1v1h-1zM45 83h1v1h-1zM9 84h8v1h-8zM43 84h1v1h-1z"/>
<path fill="#87216b" d="M61 26h1v1h-1zM55 28h1v1h-1zM53 31h1v1h-1zM64 36h1v1h-1zM57 38h1v1h-1zM60 42h1v1h-1zM62 42h1v1h-1zM39 43h1v1h-1zM56 43h2v1h-2zM64 43h1v1h-1zM65 45h1v1h-1zM33 48h1v1h-1zM64 48h1v1h-1zM22 50h1v1h-1zM24 50h1v1h-1zM16 55h1v1h-1zM13 56h1v1h-1zM55 57h1v1h-1zM61 57h1v1h-1zM9 58h1v1h-1zM54 60h1v1h-1zM55 61h1v1h-1zM55 62h1v1h-1zM54 63h1v1h-1zM53 65h1v1h-1zM52 67h1v1h-1zM51 69h1v1h-1zM50 72h1v1h-1zM49 73h1v1h-1zM48 76h1v1h-1zM47 77h1v1h-1zM46 79h1v1h-1zM46 80h1v1h-1zM45 82h1v1h-1zM44 83h1v1h-1zM17 84h3v1h-3zM42 84h1v1h-1z"/>
<path fill="#8a226a" d="M62 26h1v1h-1zM56 27h1v1h-1zM50 32h1v1h-1zM54 33h1v1h-1zM65 33h1v1h-1zM54 35h2v1h-2zM58 37h1v1h-1zM44 38h1v1h-1zM43 39h1v1h-1zM42 40h1v1h-1zM56 40h1v1h-1zM55 41h1v1h-1zM40 42h1v1h-1zM61 42h1v1h-1zM55 43h1v1h-1zM58 43h1v1h-1zM64 49h1v1h-1zM23 50h1v1h-1zM28 51h1v1h-1zM20 53h1v1h-1zM14 56h1v1h-1zM54 57h1v1h-1zM52 58h1v1h-1zM6 59h1v1h-1zM52 59h1v1h-1zM53 60h1v1h-1zM54 61h1v1h-1zM54 62h1v1h-1zM53 64h1v1h-1zM52 66h1v1h-1zM51 68h1v1h-1zM50 70h1v1h-1zM50 71h1v1h-1zM49 72h1v1h-1zM48 74h1v1h-1zM48 75h1v1h-1zM47 76h1v1h-1zM46 77h1v1h-1zM45 78h2v1h-2zM45 79h1v1h-1zM45 80h1v1h-1zM45 81h1v1h-1zM44 82h1v1h-1zM43 83h1v1h-1zM40 84h2v1h-2z"/>
<path fill="#8d2369" d="M64 28h1v1h-1zM54 30h1v1h-1zM51 32h1v1h-1zM49 33h1v1h-1zM55 33h1v1h-1zM54 42h1v1h-1zM64 44h1v1h-1zM64 47h1v1h-1zM21 51h1v1h-1zM51 58h1v1h-1zM53 62h1v1h-1zM53 63h1v1h-1zM52 65h1v1h-1zM50 69h1v1h-1zM48 73h1v1h-1zM44 78h1v1h-1zM44 79h1v1h-1zM44 80h1v1h-1zM44 81h1v1h-1zM43 82h1v1h-1zM39 84h1v1h-1z"/>
<path fill="#8f2469" d="M64 29h1v1h-1zM64 30h1v1h-1zM52 32h2v1h-2zM53 33h1v1h-1zM65 35h1v1h-1zM56 39h1v1h-1zM54 43h1v1h-1zM59 43h1v1h-1zM63 43h1v1h-1zM24 51h1v1h-1zM17 55h1v1h-1zM53 57h1v1h-1zM10 58h1v1h-1zM50 58h1v1h-1zM51 59h1v1h-1zM52 60h1v1h-1zM53 61h1v1h-1zM52 64h1v1h-1zM51 67h1v1h-1zM50 68h1v1h-1zM49 71h1v1h-1zM48 72h1v1h-1zM47 75h1v1h-1zM46 76h1v1h-1zM45 77h1v1h-1zM43 79h1v1h-1zM43 80h1v1h-1zM43 81h1v1h-1zM42 82h1v1h-1zM42 83h1v1h-1zM20 84h1v1h-1zM38 84h1v1h-1z"/>
<path fill="#922568" d="M54 31h1v1h-1zM64 31h1v1h-1zM54 32h1v1h-1zM53 34h1v1h-1zM56 34h1v1h-1zM47 36h1v1h-1zM63 36h1v1h-1zM64 45h1v1h-1zM64 46h1v1h-1zM30 50h1v1h-1zM22 51h2v1h-2zM26 52h1v1h-1zM64 55h1v1h-1zM15 56h1v1h-1zM63 56h1v1h-1zM52 57h1v1h-1zM50 59h1v1h-1zM52 63h1v1h-1zM1 64h1v1h-1zM51 66h1v1h-1zM49 70h1v1h-1zM47 74h1v1h-1zM44 77h1v1h-1zM43 78h1v1h-1zM42 81h1v1h-1zM41 82h1v1h-1zM41 83h1v1h-1zM37 84h1v1h-1z"/>
<path fill="#952667" d="M63 27h1v1h-1zM55 29h1v1h-1zM65 34h1v1h-1zM48 35h1v1h-1zM56 35h1v1h-1zM62 36h1v1h-1zM55 40h1v1h-1zM42 41h1v1h-1zM60 43h1v1h-1zM62 43h1v1h-1zM32 49h1v1h-1zM64 50h1v1h-1zM21 52h1v1h-1zM25 52h1v1h-1zM55 56h2v1h-2zM12 57h1v1h-1zM49 58h1v1h-1zM52 61h1v1h-1zM52 62h1v1h-1zM51 64h1v1h-1zM51 65h1v1h-1zM50 67h1v1h-1zM49 68h1v1h-1zM49 69h1v1h-1zM48 71h1v1h-1zM47 72h1v1h-1zM47 73h1v1h-1zM46 75h1v1h-1zM45 76h1v1h-1zM39 79h1v1h-1zM42 79h1v1h-1zM42 80h1v1h-1zM41 81h1v1h-1zM40 83h1v1h-1zM36 84h1v1h-1z"/>
<path fill="#972766" d="M57 27h1v1h-1zM55 32h1v1h-1zM64 32h1v1h-1zM56 33h1v1h-1zM59 36h3v1h-3zM46 37h1v1h-1zM56 38h1v1h-1zM54 41h1v1h-1zM53 42h1v1h-1zM53 43h1v1h-1zM61 43h1v1h-1zM63 44h1v1h-1zM27 52h1v1h-1zM54 56h1v1h-1zM57 56h1v1h-1zM51 57h1v1h-1zM49 59h1v1h-1zM51 60h1v1h-1zM3 63h1v1h-1zM51 63h1v1h-1zM50 66h1v1h-1zM49 67h1v1h-1zM48 70h1v1h-1zM47 71h1v1h-1zM46 74h1v1h-1zM45 75h1v1h-1zM44 76h1v1h-1zM43 77h1v1h-1zM39 78h1v1h-1zM42 78h1v1h-1zM38 79h1v1h-1zM40 79h2v1h-2zM41 80h1v1h-1zM40 82h1v1h-1zM39 83h1v1h-1zM21 84h15v1h-15z"/>
<path fill="#9a2865" d="M59 27h4v1h-4zM50 33h1v1h-1zM52 33h1v1h-1zM49 34h1v1h-1zM55 36h1v1h-1zM57 37h1v1h-1zM45 38h1v1h-1zM43 40h1v1h-1zM34 48h1v1h-1zM64 51h1v1h-1zM24 52h1v1h-1zM20 54h1v1h-1zM18 55h1v1h-1zM58 56h1v1h-1zM50 57h1v1h-1zM48 58h1v1h-1zM7 59h1v1h-1zM51 62h1v1h-1zM50 64h1v1h-1zM50 65h1v1h-1zM49 66h1v1h-1zM48 69h1v1h-1zM46 73h1v1h-1zM38 78h1v1h-1zM40 78h2v1h-2zM40 80h1v1h-1zM40 81h1v1h-1zM39 82h1v1h-1zM38 83h1v1h-1z"/>
<path fill="#9b2964" d="M58 27h1v1h-1zM63 28h1v1h-1zM55 30h1v1h-1zM55 31h1v1h-1zM53 35h1v1h-1zM54 36h1v1h-1zM58 36h1v1h-1zM44 39h1v1h-1zM55 39h1v1h-1zM41 42h1v1h-1zM55 44h1v1h-1zM63 45h1v1h-1zM63 48h1v1h-1zM29 51h1v1h-1zM22 52h2v1h-2zM64 52h1v1h-1zM21 53h1v1h-1zM64 54h1v1h-1zM53 56h1v1h-1zM59 56h1v1h-1zM62 56h1v1h-1zM49 57h1v1h-1zM11 58h1v1h-1zM48 59h1v1h-1zM50 60h1v1h-1zM5 61h1v1h-1zM51 61h1v1h-1zM50 63h1v1h-1zM49 65h1v1h-1zM0 66h1v1h-1zM48 67h1v1h-1zM48 68h1v1h-1zM47 70h1v1h-1zM46 71h1v1h-1zM46 72h1v1h-1zM45 74h1v1h-1zM44 75h1v1h-1zM43 76h1v1h-1zM42 77h1v1h-1zM37 79h1v1h-1zM39 80h1v1h-1zM39 81h1v1h-1zM38 82h1v1h-1zM37 83h1v1h-1z"/>
<path fill="#9f2a63" d="M56 28h1v1h-1zM56 32h1v1h-1zM51 33h1v1h-1zM57 34h1v1h-1zM54 44h1v1h-1zM56 44h3v1h-3zM37 46h1v1h-1zM63 46h1v1h-1zM63 47h1v1h-1zM64 53h1v1h-1zM13 57h1v1h-1zM48 57h1v1h-1zM47 58h1v1h-1zM49 60h1v1h-1zM4 62h1v1h-1zM50 62h1v1h-1zM49 64h1v1h-1zM48 66h1v1h-1zM47 69h1v1h-1zM46 70h1v1h-1zM44 74h1v1h-1zM43 75h1v1h-1zM38 80h1v1h-1zM37 82h1v1h-1z"/>
<path fill="#a22b62" d="M62 28h1v1h-1zM63 29h1v1h-1zM57 33h1v1h-1zM64 33h1v1h-1zM52 34h1v1h-1zM57 35h1v1h-1zM64 35h1v1h-1zM56 36h1v1h-1zM56 37h1v1h-1zM55 38h1v1h-1zM54 40h1v1h-1zM52 43h1v1h-1zM59 44h1v1h-1zM62 44h1v1h-1zM63 49h1v1h-1zM31 50h1v1h-1zM28 52h1v1h-1zM52 56h1v1h-1zM60 56h2v1h-2zM14 57h1v1h-1zM47 59h1v1h-1zM50 61h1v1h-1zM49 63h1v1h-1zM2 64h1v1h-1zM48 65h1v1h-1zM45 73h1v1h-1zM42 76h1v1h-1zM39 77h3v1h-3zM37 78h1v1h-1zM37 80h1v1h-1zM38 81h1v1h-1zM36 82h1v1h-1zM36 83h1v1h-1z"/>
<path fill="#a32c61" d="M60 28h2v1h-2zM63 30h1v1h-1zM56 31h1v1h-1zM57 36h1v1h-1zM55 37h1v1h-1zM38 45h1v1h-1zM55 55h2v1h-2zM50 56h2v1h-2zM47 57h1v1h-1zM8 59h1v1h-1zM48 60h1v1h-1zM49 61h1v1h-1zM49 62h1v1h-1zM48 63h1v1h-1zM48 64h1v1h-1zM47 67h1v1h-1zM47 68h1v1h-1zM46 69h1v1h-1zM45 71h1v1h-1zM45 72h1v1h-1zM44 73h1v1h-1zM43 74h1v1h-1zM42 75h1v1h-1zM36 79h1v1h-1zM37 81h1v1h-1zM35 83h1v1h-1z"/>
<path fill="#a62d60" d="M63 31h1v1h-1zM57 32h1v1h-1zM58 35h1v1h-1zM54 37h1v1h-1zM54 39h1v1h-1zM43 41h1v1h-1zM53 41h1v1h-1zM42 42h1v1h-1zM52 42h1v1h-1zM53 44h1v1h-1zM60 44h2v1h-2zM36 47h1v1h-1zM54 55h1v1h-1zM16 56h1v1h-1zM48 56h2v1h-2zM46 58h1v1h-1zM6 60h1v1h-1zM48 62h1v1h-1zM47 65h1v1h-1zM47 66h1v1h-1zM45 70h1v1h-1zM43 73h1v1h-1zM39 75h1v1h-1zM39 76h3v1h-3zM38 77h1v1h-1zM36 80h1v1h-1zM36 81h1v1h-1zM35 82h1v1h-1z"/>
<path fill="#a82e5f" d="M59 28h1v1h-1zM56 29h1v1h-1zM62 29h1v1h-1zM56 30h1v1h-1zM63 32h1v1h-1zM58 34h1v1h-1zM64 34h1v1h-1zM48 36h1v1h-1zM54 38h1v1h-1zM22 53h1v1h-1zM19 55h1v1h-1zM63 55h1v1h-1zM46 57h1v1h-1zM12 58h1v1h-1zM9 59h1v1h-1zM46 59h1v1h-1zM48 61h1v1h-1zM47 64h1v1h-1zM46 67h1v1h-1zM46 68h1v1h-1zM45 69h1v1h-1zM44 72h1v1h-1zM39 74h1v1h-1zM42 74h1v1h-1zM40 75h1v1h-1zM35 81h1v1h-1zM34 83h1v1h-1z"/>
<path fill="#ab2f5e" d="M57 28h2v1h-2zM61 29h1v1h-1zM58 33h1v1h-1zM50 34h1v1h-1zM49 35h1v1h-1zM59 35h1v1h-1zM53 36h1v1h-1zM47 37h1v1h-1zM44 40h1v1h-1zM57 45h1v1h-1zM62 45h1v1h-1zM33 49h1v1h-1zM24 53h2v1h-2zM53 55h1v1h-1zM57 55h1v1h-1zM47 56h1v1h-1zM47 60h1v1h-1zM47 63h1v1h-1zM46 66h1v1h-1zM45 68h1v1h-1zM44 69h1v1h-1zM44 70h1v1h-1zM44 71h1v1h-1zM43 72h1v1h-1zM42 73h1v1h-1zM38 75h1v1h-1zM41 75h1v1h-1zM38 76h1v1h-1zM36 78h1v1h-1zM35 80h1v1h-1zM34 82h1v1h-1zM33 83h1v1h-1z"/>
<path fill="#ae305c" d="M60 29h1v1h-1zM57 31h1v1h-1zM51 34h1v1h-1zM52 35h1v1h-1zM63 35h1v1h-1zM46 38h1v1h-1zM45 39h1v1h-1zM40 43h1v1h-1zM39 44h1v1h-1zM52 44h1v1h-1zM56 45h1v1h-1zM58 45h1v1h-1zM30 51h1v1h-1zM23 53h1v1h-1zM26 53h1v1h-1zM21 54h1v1h-1zM46 56h1v1h-1zM15 57h1v1h-1zM10 59h1v1h-1zM47 62h1v1h-1zM46 65h1v1h-1zM38 74h1v1h-1zM40 74h2v1h-2zM35 79h1v1h-1z"/>
<path fill="#b0315b" d="M62 30h1v1h-1zM58 32h1v1h-1zM63 33h1v1h-1zM53 39h1v1h-1zM53 40h1v1h-1zM51 43h1v1h-1zM55 45h1v1h-1zM62 46h1v1h-1zM62 47h1v1h-1zM63 50h1v1h-1zM55 54h1v1h-1zM47 55h4v1h-4zM52 55h1v1h-1zM45 58h1v1h-1zM46 60h1v1h-1zM47 61h1v1h-1zM46 64h1v1h-1zM45 67h1v1h-1zM44 68h1v1h-1zM43 71h1v1h-1zM42 72h1v1h-1zM39 73h1v1h-1zM41 73h1v1h-1zM37 77h1v1h-1zM34 81h1v1h-1zM33 82h1v1h-1zM32 83h1v1h-1z"/>
<path fill="#b3325a" d="M59 29h1v1h-1zM57 30h1v1h-1zM61 30h1v1h-1zM62 31h1v1h-1zM60 35h1v1h-1zM53 37h1v1h-1zM53 38h1v1h-1zM54 45h1v1h-1zM59 45h1v1h-1zM61 45h1v1h-1zM57 46h1v1h-1zM62 48h1v1h-1zM29 52h1v1h-1zM54 54h1v1h-1zM56 54h1v1h-1zM46 55h1v1h-1zM51 55h1v1h-1zM45 57h1v1h-1zM45 59h1v1h-1zM46 62h1v1h-1zM46 63h1v1h-1zM45 65h1v1h-1zM45 66h1v1h-1zM43 69h1v1h-1zM43 70h1v1h-1zM40 73h1v1h-1zM35 78h1v1h-1zM34 79h1v1h-1zM34 80h1v1h-1zM32 82h1v1h-1zM31 83h1v1h-1z"/>
<path fill="#b43359" d="M57 29h1v1h-1zM62 32h1v1h-1zM59 33h1v1h-1zM59 34h1v1h-1zM61 35h2v1h-2zM60 45h1v1h-1zM35 48h1v1h-1zM32 50h1v1h-1zM27 53h1v1h-1zM48 54h1v1h-1zM58 55h1v1h-1zM45 56h1v1h-1zM13 58h1v1h-1zM11 59h1v1h-1zM45 60h1v1h-1zM46 61h1v1h-1zM3 64h1v1h-1zM45 64h1v1h-1zM44 67h1v1h-1zM43 68h1v1h-1zM42 71h1v1h-1zM41 72h1v1h-1zM38 73h1v1h-1zM34 78h1v1h-1zM33 79h1v1h-1zM33 80h1v1h-1zM33 81h1v1h-1zM31 82h1v1h-1zM30 83h1v1h-1z"/>
<path fill="#b73557" d="M58 29h1v1h-1zM60 30h1v1h-1zM58 31h1v1h-1zM61 31h1v1h-1zM59 32h1v1h-1zM63 34h1v1h-1zM43 42h1v1h-1zM51 44h1v1h-1zM56 46h1v1h-1zM58 46h1v1h-1zM47 54h1v1h-1zM49 54h1v1h-1zM53 54h1v1h-1zM45 55h1v1h-1zM45 63h1v1h-1zM44 66h1v1h-1zM42 70h1v1h-1zM41 71h1v1h-1zM39 72h2v1h-2zM37 76h1v1h-1zM36 77h1v1h-1zM33 78h1v1h-1zM32 79h1v1h-1zM32 81h1v1h-1zM30 82h1v1h-1zM29 83h1v1h-1z"/>
<path fill="#ba3655" d="M50 35h1v1h-1zM49 36h1v1h-1zM52 41h1v1h-1zM51 42h1v1h-1zM53 45h1v1h-1zM46 54h1v1h-1zM62 55h1v1h-1zM17 56h1v1h-1zM44 57h1v1h-1zM44 58h1v1h-1zM12 59h1v1h-1zM44 59h1v1h-1zM45 61h1v1h-1zM45 62h1v1h-1zM44 64h1v1h-1zM44 65h1v1h-1zM43 67h1v1h-1zM42 69h1v1h-1zM40 71h1v1h-1zM37 75h1v1h-1zM35 77h1v1h-1zM32 78h1v1h-1zM32 80h1v1h-1zM31 81h1v1h-1zM28 83h1v1h-1z"/>
<path fill="#bc3754" d="M58 30h2v1h-2zM59 31h2v1h-2zM60 32h2v1h-2zM62 33h1v1h-1zM51 35h1v1h-1zM52 36h1v1h-1zM48 37h1v1h-1zM44 41h1v1h-1zM61 46h1v1h-1zM62 49h1v1h-1zM63 51h1v1h-1zM55 53h1v1h-1zM22 54h1v1h-1zM50 54h1v1h-1zM52 54h1v1h-1zM57 54h1v1h-1zM63 54h1v1h-1zM59 55h1v1h-1zM44 56h1v1h-1zM14 58h1v1h-1zM7 60h1v1h-1zM4 63h1v1h-1zM44 63h1v1h-1zM1 65h1v1h-1zM42 68h1v1h-1zM41 70h1v1h-1zM39 71h1v1h-1zM37 74h1v1h-1zM34 77h1v1h-1zM31 79h1v1h-1zM31 80h1v1h-1zM30 81h1v1h-1zM29 82h1v1h-1z"/>
<path fill="#bf3952" d="M60 33h1v1h-1zM60 34h1v1h-1zM47 38h1v1h-1zM46 39h1v1h-1zM45 40h1v1h-1zM59 46h1v1h-1zM31 51h1v1h-1zM28 53h1v1h-1zM48 53h1v1h-1zM54 53h1v1h-1zM56 53h1v1h-1zM51 54h1v1h-1zM20 55h1v1h-1zM44 60h1v1h-1zM44 61h1v1h-1zM44 62h1v1h-1zM43 64h1v1h-1zM43 65h1v1h-1zM43 66h1v1h-1zM39 70h2v1h-2zM38 72h1v1h-1zM34 76h3v1h-3zM32 77h2v1h-2zM31 78h1v1h-1zM30 80h1v1h-1zM28 82h1v1h-1zM27 83h1v1h-1z"/>
<path fill="#c13a50" d="M41 43h1v1h-1zM52 45h1v1h-1zM60 46h1v1h-1zM61 47h1v1h-1zM63 52h1v1h-1zM49 53h1v1h-1zM53 53h1v1h-1zM45 54h1v1h-1zM44 55h1v1h-1zM60 55h2v1h-2zM43 58h1v1h-1zM6 61h1v1h-1zM5 62h1v1h-1zM43 63h1v1h-1zM42 67h1v1h-1zM41 69h1v1h-1zM37 73h1v1h-1zM34 75h3v1h-3zM31 77h1v1h-1zM30 78h1v1h-1zM29 79h2v1h-2zM29 80h1v1h-1zM29 81h1v1h-1zM27 82h1v1h-1zM26 83h1v1h-1z"/>
<path fill="#c33b4f" d="M61 33h1v1h-1zM62 34h1v1h-1zM52 37h1v1h-1zM52 38h1v1h-1zM50 43h1v1h-1zM55 46h1v1h-1zM30 52h1v1h-1zM47 53h1v1h-1zM63 53h1v1h-1zM43 57h1v1h-1zM13 59h1v1h-1zM43 59h1v1h-1zM8 60h1v1h-1zM42 66h1v1h-1zM41 67h1v1h-1zM41 68h1v1h-1zM39 69h2v1h-2zM38 71h1v1h-1zM33 75h1v1h-1zM31 76h3v1h-3zM30 77h1v1h-1zM29 78h1v1h-1zM28 79h1v1h-1zM28 81h1v1h-1zM26 82h1v1h-1zM18 83h1v1h-1zM25 83h1v1h-1z"/>
<path fill="#c63d4d" d="M61 34h1v1h-1zM50 36h2v1h-2zM52 39h1v1h-1zM52 40h1v1h-1zM50 44h1v1h-1zM34 49h1v1h-1zM52 53h1v1h-1zM23 54h1v1h-1zM43 56h1v1h-1zM43 60h1v1h-1zM43 62h1v1h-1zM42 64h1v1h-1zM42 65h1v1h-1zM41 66h1v1h-1zM40 67h1v1h-1zM39 68h2v1h-2zM38 70h1v1h-1zM37 72h1v1h-1zM35 74h2v1h-2zM31 75h2v1h-2zM30 76h1v1h-1zM29 77h1v1h-1zM28 78h1v1h-1zM27 79h1v1h-1zM28 80h1v1h-1zM27 81h1v1h-1zM18 82h1v1h-1zM25 82h1v1h-1zM19 83h1v1h-1zM24 83h1v1h-1z"/>
<path fill="#c73e4c" d="M42 43h1v1h-1zM57 47h1v1h-1zM61 48h1v1h-1zM46 53h1v1h-1zM50 53h1v1h-1zM24 54h1v1h-1zM44 54h1v1h-1zM16 57h1v1h-1zM9 60h1v1h-1zM43 61h1v1h-1zM42 63h1v1h-1zM40 66h1v1h-1zM39 67h1v1h-1zM38 69h1v1h-1zM34 74h1v1h-1zM30 75h1v1h-1zM27 78h1v1h-1zM27 80h1v1h-1zM26 81h1v1h-1zM23 82h2v1h-2zM17 83h1v1h-1zM23 83h1v1h-1z"/>
<path fill="#ca404a" d="M51 45h1v1h-1zM54 46h1v1h-1zM58 47h1v1h-1zM60 47h1v1h-1zM29 53h1v1h-1zM51 53h1v1h-1zM57 53h1v1h-1zM25 54h1v1h-1zM58 54h1v1h-1zM43 55h1v1h-1zM42 57h1v1h-1zM42 58h1v1h-1zM42 59h1v1h-1zM12 60h1v1h-1zM42 62h1v1h-1zM4 64h1v1h-1zM41 65h1v1h-1zM39 66h1v1h-1zM38 68h1v1h-1zM37 71h1v1h-1zM36 73h1v1h-1zM33 74h1v1h-1zM29 75h1v1h-1zM29 76h1v1h-1zM28 77h1v1h-1zM26 79h1v1h-1zM26 80h1v1h-1zM25 81h1v1h-1zM17 82h1v1h-1zM19 82h1v1h-1zM15 83h2v1h-2zM22 83h1v1h-1z"/>
<path fill="#cc4248" d="M49 37h1v1h-1zM59 47h1v1h-1zM33 50h1v1h-1zM62 50h1v1h-1zM26 54h1v1h-1zM18 56h1v1h-1zM42 56h1v1h-1zM10 60h2v1h-2zM42 60h1v1h-1zM42 61h1v1h-1zM2 65h1v1h-1zM40 65h1v1h-1zM0 67h1v1h-1zM38 67h1v1h-1zM30 74h3v1h-3zM28 76h1v1h-1zM27 77h1v1h-1zM26 78h1v1h-1zM23 81h2v1h-2zM15 82h2v1h-2zM22 82h1v1h-1zM20 83h1v1h-1z"/>
<path fill="#ce4347" d="M51 37h1v1h-1zM48 38h1v1h-1zM47 39h1v1h-1zM50 42h1v1h-1zM38 46h1v1h-1zM53 46h1v1h-1zM56 47h1v1h-1zM32 51h1v1h-1zM45 53h1v1h-1zM15 58h1v1h-1zM41 63h1v1h-1zM41 64h1v1h-1zM39 65h1v1h-1zM37 70h1v1h-1zM36 72h1v1h-1zM35 73h1v1h-1zM29 74h1v1h-1zM28 75h1v1h-1zM25 79h1v1h-1zM25 80h1v1h-1zM18 81h1v1h-1zM20 82h1v1h-1zM14 83h1v1h-1zM21 83h1v1h-1z"/>
<path fill="#d04545" d="M46 40h1v1h-1zM45 41h1v1h-1zM51 41h1v1h-1zM44 42h1v1h-1zM39 45h1v1h-1zM50 45h1v1h-1zM37 47h1v1h-1zM55 52h1v1h-1zM43 54h1v1h-1zM42 55h1v1h-1zM41 56h1v1h-1zM41 57h1v1h-1zM41 58h1v1h-1zM14 59h1v1h-1zM41 59h1v1h-1zM13 60h1v1h-1zM41 60h1v1h-1zM40 61h2v1h-2zM41 62h1v1h-1zM39 64h2v1h-2zM38 66h1v1h-1zM37 69h1v1h-1zM34 73h1v1h-1zM28 74h1v1h-1zM27 76h1v1h-1zM26 77h1v1h-1zM23 80h2v1h-2zM17 81h1v1h-1zM19 81h1v1h-1zM22 81h1v1h-1zM14 82h1v1h-1zM21 82h1v1h-1z"/>
<path fill="#d24644" d="M50 37h1v1h-1zM43 43h1v1h-1zM49 44h1v1h-1zM61 49h1v1h-1zM31 52h1v1h-1zM54 52h1v1h-1zM56 52h1v1h-1zM27 54h1v1h-1zM62 54h1v1h-1zM21 55h1v1h-1zM41 55h1v1h-1zM40 59h1v1h-1zM40 60h1v1h-1zM39 62h2v1h-2zM39 63h2v1h-2zM38 65h1v1h-1zM37 68h1v1h-1zM36 71h1v1h-1zM35 72h1v1h-1zM33 73h1v1h-1zM27 75h1v1h-1zM25 78h1v1h-1zM24 79h1v1h-1zM22 80h1v1h-1zM16 81h1v1h-1z"/>
<path fill="#d44842" d="M51 38h1v1h-1zM40 44h1v1h-1zM60 48h1v1h-1zM49 52h1v1h-1zM53 52h1v1h-1zM44 53h1v1h-1zM40 56h1v1h-1zM40 57h1v1h-1zM40 58h1v1h-1zM39 59h1v1h-1zM39 60h1v1h-1zM7 61h1v1h-1zM39 61h1v1h-1zM5 63h1v1h-1zM3 65h1v1h-1zM37 67h1v1h-1zM29 73h4v1h-4zM26 76h1v1h-1zM22 79h2v1h-2zM18 80h1v1h-1zM15 81h1v1h-1zM20 81h2v1h-2zM13 83h1v1h-1z"/>
<path fill="#d74b3f" d="M49 43h1v1h-1zM52 46h1v1h-1zM48 52h1v1h-1zM50 52h1v1h-1zM52 52h1v1h-1zM30 53h1v1h-1zM42 54h1v1h-1zM39 58h1v1h-1zM6 62h1v1h-1zM38 63h1v1h-1zM38 64h1v1h-1zM37 66h1v1h-1zM36 70h1v1h-1zM35 71h1v1h-1zM34 72h1v1h-1zM28 73h1v1h-1zM27 74h1v1h-1zM25 77h1v1h-1zM24 78h1v1h-1zM21 79h1v1h-1zM16 80h2v1h-2zM19 80h3v1h-3zM14 81h1v1h-1zM13 82h1v1h-1z"/>
<path fill="#d84c3e" d="M49 45h1v1h-1zM51 52h1v1h-1zM57 52h1v1h-1zM28 54h1v1h-1zM41 54h1v1h-1zM59 54h1v1h-1zM40 55h1v1h-1zM39 57h1v1h-1zM38 59h1v1h-1zM38 62h1v1h-1zM36 69h1v1h-1zM33 72h1v1h-1zM26 75h1v1h-1zM21 78h3v1h-3zM20 79h1v1h-1zM2 81h2v1h-2zM2 82h1v1h-1zM12 83h1v1h-1z"/>
<path fill="#da4e3c" d="M49 38h1v1h-1zM48 39h1v1h-1zM51 39h1v1h-1zM55 47h1v1h-1zM36 48h1v1h-1zM47 52h1v1h-1zM58 53h1v1h-1zM38 58h1v1h-1zM38 60h1v1h-1zM8 61h1v1h-1zM38 61h1v1h-1zM5 64h1v1h-1zM36 67h1v1h-1zM36 68h1v1h-1zM35 70h1v1h-1zM34 71h1v1h-1zM32 72h1v1h-1zM25 76h1v1h-1zM24 77h1v1h-1zM20 78h1v1h-1zM16 79h4v1h-4zM3 80h1v1h-1zM15 80h1v1h-1zM13 81h1v1h-1zM3 82h1v1h-1zM12 82h1v1h-1zM2 83h1v1h-1zM11 83h1v1h-1z"/>
<path fill="#db503b" d="M47 40h1v1h-1zM51 40h1v1h-1zM59 48h1v1h-1zM62 51h1v1h-1zM43 53h1v1h-1zM40 54h1v1h-1zM19 56h1v1h-1zM39 56h1v1h-1zM4 65h1v1h-1zM37 65h1v1h-1zM36 66h1v1h-1zM35 69h1v1h-1zM34 70h1v1h-1zM33 71h1v1h-1zM29 72h3v1h-3zM27 73h1v1h-1zM26 74h1v1h-1zM16 78h2v1h-2zM19 78h1v1h-1zM15 79h1v1h-1zM2 80h1v1h-1zM14 80h1v1h-1zM4 81h1v1h-1zM11 82h1v1h-1zM3 83h1v1h-1z"/>
<path fill="#de5238" d="M50 38h1v1h-1zM50 41h1v1h-1zM51 46h1v1h-1zM32 52h1v1h-1zM17 57h1v1h-1zM14 60h1v1h-1zM37 63h1v1h-1zM37 64h1v1h-1zM35 68h1v1h-1zM25 75h1v1h-1zM24 76h1v1h-1zM20 77h4v1h-4zM18 78h1v1h-1zM4 80h1v1h-1zM12 81h1v1h-1zM10 83h1v1h-1z"/>
<path fill="#e05536" d="M46 41h1v1h-1zM49 42h1v1h-1zM58 48h1v1h-1zM35 49h1v1h-1zM60 49h1v1h-1zM46 52h1v1h-1zM29 54h1v1h-1zM61 54h1v1h-1zM22 55h1v1h-1zM39 55h1v1h-1zM37 59h1v1h-1zM9 61h1v1h-1zM37 62h1v1h-1zM6 63h1v1h-1zM35 67h1v1h-1zM34 69h1v1h-1zM33 70h1v1h-1zM32 71h1v1h-1zM28 72h1v1h-1zM26 73h1v1h-1zM23 76h1v1h-1zM17 77h3v1h-3zM15 78h1v1h-1zM1 81h1v1h-1zM11 81h1v1h-1zM1 82h1v1h-1zM4 82h1v1h-1zM10 82h1v1h-1zM1 83h1v1h-1z"/>
<path fill="#e15635" d="M48 40h1v1h-1zM61 50h1v1h-1zM33 51h1v1h-1zM31 53h1v1h-1zM42 53h1v1h-1zM62 53h1v1h-1zM60 54h1v1h-1zM38 57h1v1h-1zM37 60h1v1h-1zM12 61h1v1h-1zM7 62h1v1h-1zM36 65h1v1h-1zM35 66h1v1h-1zM31 71h1v1h-1zM27 72h1v1h-1zM25 74h1v1h-1zM24 75h1v1h-1zM22 76h1v1h-1zM16 77h1v1h-1zM3 79h1v1h-1zM14 79h1v1h-1zM13 80h1v1h-1zM5 81h1v1h-1zM4 83h1v1h-1z"/>
<path fill="#e35933" d="M49 39h1v1h-1zM45 42h1v1h-1zM44 43h1v1h-1zM48 44h1v1h-1zM48 45h1v1h-1zM54 47h1v1h-1zM57 48h1v1h-1zM45 52h1v1h-1zM62 52h1v1h-1zM41 53h1v1h-1zM39 54h1v1h-1zM16 58h1v1h-1zM37 58h1v1h-1zM15 59h1v1h-1zM10 61h2v1h-2zM13 61h1v1h-1zM37 61h1v1h-1zM36 64h1v1h-1zM1 66h1v1h-1zM34 67h1v1h-1zM34 68h1v1h-1zM32 70h1v1h-1zM30 71h1v1h-1zM23 75h1v1h-1zM17 76h5v1h-5zM2 79h1v1h-1zM4 79h1v1h-1zM1 80h1v1h-1zM5 80h1v1h-1zM0 82h1v1h-1zM0 83h1v1h-1zM9 83h1v1h-1z"/>
<path fill="#e55c30" d="M50 39h1v1h-1zM49 41h1v1h-1zM41 44h1v1h-1zM50 46h1v1h-1zM34 50h1v1h-1zM56 51h1v1h-1zM58 52h1v1h-1zM40 53h1v1h-1zM30 54h1v1h-1zM36 63h1v1h-1zM6 64h1v1h-1zM5 65h1v1h-1zM35 65h1v1h-1zM34 66h1v1h-1zM33 69h1v1h-1zM29 71h1v1h-1zM25 73h1v1h-1zM24 74h1v1h-1zM22 75h1v1h-1zM15 77h1v1h-1zM0 79h1v1h-1zM0 80h1v1h-1zM12 80h1v1h-1zM0 81h1v1h-1zM10 81h1v1h-1zM5 82h1v1h-1zM9 82h1v1h-1zM5 83h1v1h-1z"/>
<path fill="#e65d2f" d="M49 40h2v1h-2zM47 41h1v1h-1zM59 49h1v1h-1zM55 51h1v1h-1zM57 51h1v1h-1zM23 55h1v1h-1zM36 59h1v1h-1zM8 62h1v1h-1zM36 62h1v1h-1zM7 63h1v1h-1zM35 64h1v1h-1zM33 68h1v1h-1zM31 70h1v1h-1zM28 71h1v1h-1zM26 72h1v1h-1zM23 74h1v1h-1zM18 75h2v1h-2zM21 75h1v1h-1zM16 76h1v1h-1zM14 78h1v1h-1zM8 83h1v1h-1z"/>
<path fill="#e8602d" d="M48 41h1v1h-1zM48 43h1v1h-1zM53 47h1v1h-1zM54 51h1v1h-1zM39 53h1v1h-1zM24 55h3v1h-3zM38 56h1v1h-1zM36 60h1v1h-1zM36 61h1v1h-1zM35 62h1v1h-1zM35 63h1v1h-1zM34 65h1v1h-1zM33 67h1v1h-1zM32 69h1v1h-1zM24 73h1v1h-1zM22 74h1v1h-1zM20 75h1v1h-1zM0 78h1v1h-1zM2 78h2v1h-2zM5 79h1v1h-1zM13 79h1v1h-1zM6 80h1v1h-1zM11 80h1v1h-1zM6 81h1v1h-1zM9 81h1v1h-1zM6 82h3v1h-3zM6 83h2v1h-2z"/>
<path fill="#e9612b" d="M48 42h1v1h-1zM42 44h1v1h-1zM49 46h1v1h-1zM56 48h1v1h-1zM53 51h1v1h-1zM44 52h1v1h-1zM32 53h1v1h-1zM27 55h1v1h-1zM37 57h1v1h-1zM36 58h1v1h-1zM35 60h1v1h-1zM35 61h1v1h-1zM7 64h1v1h-1zM33 66h1v1h-1zM30 70h1v1h-1zM27 71h1v1h-1zM25 72h1v1h-1zM23 73h1v1h-1zM21 74h1v1h-1zM17 75h1v1h-1zM0 77h1v1h-1zM1 79h1v1h-1z"/>
<path fill="#eb6429" d="M60 50h1v1h-1zM50 51h3v1h-3zM58 51h1v1h-1zM59 53h1v1h-1zM20 56h1v1h-1zM14 61h1v1h-1zM34 62h1v1h-1zM8 63h1v1h-1zM34 63h1v1h-1zM34 64h1v1h-1zM2 66h1v1h-1zM32 68h1v1h-1zM31 69h1v1h-1zM29 70h1v1h-1zM18 74h3v1h-3zM7 81h2v1h-2z"/>
<path fill="#ec6726" d="M40 45h1v1h-1zM39 46h1v1h-1zM58 49h1v1h-1zM33 52h1v1h-1zM31 54h1v1h-1zM28 55h1v1h-1zM38 55h1v1h-1zM35 59h1v1h-1zM34 61h1v1h-1zM9 62h1v1h-1zM33 65h1v1h-1zM32 67h1v1h-1zM28 70h1v1h-1zM26 71h1v1h-1zM24 72h1v1h-1zM22 73h1v1h-1zM16 75h1v1h-1zM0 76h1v1h-1zM15 76h1v1h-1zM2 77h1v1h-1zM14 77h1v1h-1zM1 78h1v1h-1zM4 78h1v1h-1zM6 79h1v1h-1zM7 80h1v1h-1zM10 80h1v1h-1z"/>
<path fill="#ed6925" d="M46 42h1v1h-1zM43 44h1v1h-1zM48 46h1v1h-1zM52 47h1v1h-1zM59 50h1v1h-1zM49 51h1v1h-1zM38 54h1v1h-1zM29 55h1v1h-1zM34 60h1v1h-1zM8 64h1v1h-1zM6 65h1v1h-1zM3 66h1v1h-1zM32 66h1v1h-1zM30 69h1v1h-1zM25 71h1v1h-1zM19 73h3v1h-3zM17 74h1v1h-1zM1 77h1v1h-1zM13 78h1v1h-1zM12 79h1v1h-1zM9 80h1v1h-1z"/>
<path fill="#ef6c23" d="M47 42h1v1h-1zM45 43h1v1h-1zM47 45h1v1h-1zM38 47h1v1h-1zM57 49h1v1h-1zM57 50h2v1h-2zM48 51h1v1h-1zM61 51h1v1h-1zM43 52h1v1h-1zM18 57h1v1h-1zM15 60h1v1h-1zM33 64h1v1h-1zM4 66h1v1h-1zM31 68h1v1h-1zM29 69h1v1h-1zM27 70h1v1h-1zM23 72h1v1h-1zM18 73h1v1h-1zM8 80h1v1h-1z"/>
<path fill="#ef6e21" d="M47 44h1v1h-1zM55 48h1v1h-1zM56 50h1v1h-1zM38 53h1v1h-1zM30 55h1v1h-1zM37 56h1v1h-1zM36 57h1v1h-1zM35 58h1v1h-1zM34 59h1v1h-1zM33 61h1v1h-1zM33 62h1v1h-1zM33 63h1v1h-1zM32 65h1v1h-1zM31 67h1v1h-1zM24 71h1v1h-1zM21 72h2v1h-2zM0 75h1v1h-1zM3 77h1v1h-1zM5 78h1v1h-1zM7 79h1v1h-1z"/>
<path fill="#f1711f" d="M47 43h1v1h-1zM59 51h1v1h-1zM39 52h1v1h-1zM59 52h1v1h-1zM33 53h1v1h-1zM32 54h1v1h-1zM10 62h1v1h-1zM9 63h1v1h-1zM31 66h1v1h-1zM30 68h1v1h-1zM28 69h1v1h-1zM26 70h1v1h-1zM19 72h2v1h-2zM17 73h1v1h-1zM16 74h1v1h-1zM15 75h1v1h-1zM11 79h1v1h-1z"/>
<path fill="#f2741c" d="M55 50h1v1h-1zM47 51h1v1h-1zM40 52h1v1h-1zM42 52h1v1h-1zM61 53h1v1h-1zM31 55h1v1h-1zM33 60h1v1h-1zM32 64h1v1h-1zM31 65h1v1h-1zM5 66h1v1h-1zM30 67h1v1h-1zM29 68h1v1h-1zM25 70h1v1h-1zM21 71h3v1h-3zM14 76h1v1h-1zM8 79h1v1h-1z"/>
<path fill="#f3761b" d="M46 43h1v1h-1zM44 44h1v1h-1zM47 46h1v1h-1zM37 48h1v1h-1zM56 49h1v1h-1zM34 51h1v1h-1zM41 52h1v1h-1zM17 58h1v1h-1zM16 59h1v1h-1zM32 63h1v1h-1zM7 65h1v1h-1zM0 68h1v1h-1zM27 69h1v1h-1zM24 70h1v1h-1zM20 71h1v1h-1zM18 72h1v1h-1zM1 76h2v1h-2zM13 77h1v1h-1zM6 78h1v1h-1zM9 79h2v1h-2z"/>
<path fill="#f47918" d="M51 47h1v1h-1zM54 48h1v1h-1zM46 51h1v1h-1zM60 51h1v1h-1zM60 53h1v1h-1zM35 57h1v1h-1zM34 58h1v1h-1zM11 62h1v1h-1zM32 62h1v1h-1zM9 64h1v1h-1zM30 66h1v1h-1zM28 68h1v1h-1zM26 69h1v1h-1zM23 70h1v1h-1zM4 77h1v1h-1zM12 78h1v1h-1z"/>
<path fill="#f57b17" d="M46 44h1v1h-1zM36 49h1v1h-1zM35 50h1v1h-1zM54 50h1v1h-1zM38 52h1v1h-1zM61 52h1v1h-1zM33 54h1v1h-1zM32 55h1v1h-1zM37 55h1v1h-1zM21 56h1v1h-1zM36 56h1v1h-1zM33 59h1v1h-1zM15 61h1v1h-1zM32 61h1v1h-1zM12 62h1v1h-1zM31 64h1v1h-1zM30 65h1v1h-1zM29 67h1v1h-1zM25 69h1v1h-1zM21 70h2v1h-2zM19 71h1v1h-1zM17 72h1v1h-1zM16 73h1v1h-1zM15 74h1v1h-1zM7 78h1v1h-1z"/>
<path fill="#f67e14" d="M45 44h1v1h-1zM41 45h1v1h-1zM46 45h1v1h-1zM55 49h1v1h-1zM45 51h1v1h-1zM34 52h1v1h-1zM30 56h2v1h-2zM34 57h1v1h-1zM13 62h1v1h-1zM8 65h1v1h-1zM29 66h1v1h-1zM28 67h1v1h-1zM27 68h1v1h-1zM23 69h2v1h-2zM20 70h1v1h-1zM0 74h1v1h-1zM14 75h1v1h-1z"/>
<path fill="#f78212" d="M53 50h1v1h-1zM37 53h1v1h-1zM37 54h1v1h-1zM29 56h1v1h-1zM32 56h1v1h-1zM35 56h1v1h-1zM33 58h1v1h-1zM32 60h1v1h-1zM14 62h1v1h-1zM10 63h1v1h-1zM26 68h1v1h-1zM21 69h2v1h-2zM18 71h1v1h-1zM3 76h1v1h-1zM8 78h1v1h-1zM11 78h1v1h-1z"/>
<path fill="#f78410" d="M40 46h1v1h-1zM46 46h1v1h-1zM50 47h1v1h-1zM53 48h1v1h-1zM60 52h1v1h-1zM34 53h1v1h-1zM33 55h1v1h-1zM27 56h2v1h-2zM33 56h2v1h-2zM33 57h1v1h-1zM24 63h1v1h-1zM31 63h1v1h-1zM30 64h1v1h-1zM29 65h1v1h-1zM6 66h1v1h-1zM28 66h1v1h-1zM26 67h2v1h-2zM23 68h3v1h-3zM20 69h1v1h-1zM19 70h1v1h-1zM16 72h1v1h-1zM15 73h1v1h-1zM13 76h1v1h-1zM9 78h1v1h-1z"/>
<path fill="#f8870e" d="M42 45h1v1h-1zM54 49h1v1h-1zM52 50h1v1h-1zM34 54h1v1h-1zM34 55h1v1h-1zM36 55h1v1h-1zM19 57h1v1h-1zM32 57h1v1h-1zM31 62h1v1h-1zM24 64h1v1h-1zM1 67h1v1h-1zM24 67h2v1h-2zM22 68h1v1h-1zM19 69h1v1h-1zM18 70h1v1h-1zM17 71h1v1h-1zM5 77h1v1h-1zM12 77h1v1h-1zM10 78h1v1h-1z"/>
<path fill="#f8890c" d="M43 45h1v1h-1zM45 45h1v1h-1zM49 47h1v1h-1zM51 50h1v1h-1zM44 51h1v1h-1zM35 55h1v1h-1zM26 56h1v1h-1zM31 57h1v1h-1zM32 58h1v1h-1zM32 59h1v1h-1zM31 61h1v1h-1zM23 63h1v1h-1zM25 63h1v1h-1zM23 64h1v1h-1zM25 64h1v1h-1zM29 64h1v1h-1zM24 65h2v1h-2zM28 65h1v1h-1zM24 66h4v1h-4zM22 67h2v1h-2zM20 68h2v1h-2zM1 75h1v1h-1z"/>
<path fill="#f98c0a" d="M44 45h1v1h-1zM48 47h1v1h-1zM37 52h1v1h-1zM35 54h2v1h-2zM30 57h1v1h-1zM23 62h1v1h-1zM30 63h1v1h-1zM10 64h1v1h-1zM9 65h1v1h-1zM23 65h1v1h-1zM22 66h2v1h-2zM2 67h3v1h-3zM21 67h1v1h-1zM19 68h1v1h-1zM18 69h1v1h-1zM14 74h1v1h-1z"/>
<path fill="#fa9008" d="M45 46h1v1h-1zM39 47h1v1h-1zM47 47h1v1h-1zM50 50h1v1h-1zM39 51h1v1h-1zM35 53h2v1h-2zM22 56h1v1h-1zM16 60h1v1h-1zM31 60h1v1h-1zM15 62h1v1h-1zM24 62h1v1h-1zM22 63h1v1h-1zM22 64h1v1h-1zM22 65h1v1h-1zM26 65h2v1h-2zM17 70h1v1h-1zM2 75h1v1h-1zM13 75h1v1h-1zM6 77h1v1h-1zM11 77h1v1h-1z"/>
<path fill="#fa9207" d="M52 48h1v1h-1zM53 49h1v1h-1zM35 51h1v1h-1zM38 51h1v1h-1zM35 52h1v1h-1zM25 56h1v1h-1zM31 58h1v1h-1zM22 62h1v1h-1zM11 63h1v1h-1zM26 64h1v1h-1zM28 64h1v1h-1zM21 66h1v1h-1zM20 67h1v1h-1zM18 68h1v1h-1zM16 71h1v1h-1zM15 72h1v1h-1zM12 76h1v1h-1zM7 77h4v1h-4z"/>
<path fill="#fb9606" d="M41 46h1v1h-1zM49 50h1v1h-1zM40 51h1v1h-1zM43 51h1v1h-1zM29 57h1v1h-1zM31 59h1v1h-1zM30 62h1v1h-1zM21 63h1v1h-1zM29 63h1v1h-1zM21 64h1v1h-1zM21 65h1v1h-1zM5 67h1v1h-1zM19 67h1v1h-1zM4 76h1v1h-1z"/>
<path fill="#fb9906" d="M44 46h1v1h-1zM46 47h1v1h-1zM36 50h1v1h-1zM48 50h1v1h-1zM36 52h1v1h-1zM18 58h1v1h-1zM30 61h1v1h-1zM25 62h1v1h-1zM26 63h1v1h-1zM27 64h1v1h-1zM7 66h1v1h-1zM20 66h1v1h-1zM17 69h1v1h-1zM14 73h1v1h-1z"/>
<path fill="#fb9b06" d="M42 46h2v1h-2zM40 47h1v1h-1zM47 50h1v1h-1zM41 51h2v1h-2zM23 56h2v1h-2zM30 58h1v1h-1zM17 59h1v1h-1zM28 63h1v1h-1zM0 69h1v1h-1zM0 73h1v1h-1z"/>
<path fill="#fc9f07" d="M38 48h1v1h-1zM37 49h1v1h-1zM52 49h1v1h-1zM46 50h1v1h-1zM37 51h1v1h-1zM20 57h1v1h-1zM28 57h1v1h-1zM30 60h1v1h-1zM16 61h1v1h-1zM22 61h2v1h-2zM21 62h1v1h-1zM29 62h1v1h-1zM12 63h3v1h-3zM20 64h1v1h-1zM20 65h1v1h-1zM18 67h1v1h-1zM3 75h1v1h-1zM12 75h1v1h-1zM11 76h1v1h-1z"/>
<path fill="#fca108" d="M45 47h1v1h-1zM36 51h1v1h-1zM30 59h1v1h-1zM20 63h1v1h-1zM27 63h1v1h-1zM11 64h1v1h-1zM10 65h1v1h-1zM19 66h1v1h-1zM17 68h1v1h-1zM16 70h1v1h-1zM13 74h1v1h-1zM5 76h1v1h-1zM10 76h1v1h-1z"/>
<path fill="#fca50a" d="M41 47h1v1h-1zM45 50h1v1h-1zM29 58h1v1h-1zM26 62h1v1h-1zM15 63h1v1h-1zM0 70h1v1h-1zM0 72h1v1h-1zM1 74h1v1h-1zM9 76h1v1h-1z"/>
<path fill="#fca80d" d="M51 48h1v1h-1zM37 50h1v1h-1zM27 57h1v1h-1zM24 61h1v1h-1zM29 61h1v1h-1zM28 62h1v1h-1zM8 66h1v1h-1zM6 67h1v1h-1zM4 68h1v1h-1zM15 71h1v1h-1zM8 76h1v1h-1z"/>
<path fill="#fcaa0f" d="M44 47h1v1h-1zM40 48h1v1h-1zM38 50h2v1h-2zM29 59h1v1h-1zM29 60h1v1h-1zM16 62h1v1h-1zM27 62h1v1h-1zM19 64h1v1h-1zM19 65h1v1h-1zM18 66h1v1h-1zM3 68h1v1h-1zM14 72h1v1h-1zM11 75h1v1h-1zM6 76h2v1h-2z"/>
<path fill="#fcae12" d="M42 47h1v1h-1zM39 48h1v1h-1zM47 48h1v1h-1zM51 49h1v1h-1zM40 50h1v1h-1zM21 61h1v1h-1zM20 62h1v1h-1zM19 63h1v1h-1zM12 64h1v1h-1zM17 67h1v1h-1zM16 69h1v1h-1zM0 71h1v1h-1zM2 74h1v1h-1z"/>
<path fill="#fcb014" d="M43 47h1v1h-1zM41 48h1v1h-1zM48 48h3v1h-3zM44 50h1v1h-1zM28 58h1v1h-1zM28 61h1v1h-1zM16 63h1v1h-1zM11 65h1v1h-1zM1 68h2v1h-2zM5 68h1v1h-1zM13 73h1v1h-1zM12 74h1v1h-1zM4 75h1v1h-1z"/>
<path fill="#fcb418" d="M46 48h1v1h-1zM38 49h1v1h-1zM40 49h1v1h-1zM41 50h1v1h-1zM19 58h1v1h-1zM25 61h1v1h-1zM13 64h2v1h-2zM18 64h1v1h-1zM18 65h1v1h-1zM9 66h1v1h-1zM17 66h1v1h-1zM10 75h1v1h-1z"/>
<path fill="#fbb81d" d="M41 49h1v1h-1zM46 49h5v1h-5zM26 57h1v1h-1zM17 60h1v1h-1zM17 63h2v1h-2zM15 64h3v1h-3zM17 65h1v1h-1z"/>
<path fill="#fbba1f" d="M45 48h1v1h-1zM39 49h1v1h-1zM43 50h1v1h-1zM28 59h1v1h-1zM28 60h1v1h-1zM26 61h2v1h-2zM16 68h1v1h-1zM15 70h1v1h-1zM3 74h1v1h-1zM9 75h1v1h-1z"/>
<path fill="#fbbe23" d="M42 48h1v1h-1zM45 49h1v1h-1zM42 50h1v1h-1zM21 57h1v1h-1zM17 62h1v1h-1zM19 62h1v1h-1zM12 65h1v1h-1zM16 65h1v1h-1zM10 66h1v1h-1zM7 67h1v1h-1zM1 73h1v1h-1zM11 74h1v1h-1zM5 75h1v1h-1zM8 75h1v1h-1z"/>
<path fill="#fac026" d="M18 59h1v1h-1zM16 66h1v1h-1zM16 67h1v1h-1zM3 69h2v1h-2zM14 71h1v1h-1zM6 75h2v1h-2z"/>
<path fill="#fac42a" d="M44 48h1v1h-1zM27 58h1v1h-1zM17 61h1v1h-1zM18 62h1v1h-1zM13 65h1v1h-1zM15 65h1v1h-1zM13 72h1v1h-1zM2 73h1v1h-1z"/>
<path fill="#f9c72f" d="M43 48h1v1h-1zM42 49h1v1h-1zM44 49h1v1h-1zM22 60h1v1h-1zM27 60h1v1h-1zM20 61h1v1h-1zM14 65h1v1h-1zM11 66h1v1h-1zM2 69h1v1h-1zM12 73h1v1h-1zM10 74h1v1h-1z"/>
<path fill="#f9c932" d="M25 57h1v1h-1zM6 68h1v1h-1zM1 69h1v1h-1zM5 69h1v1h-1zM3 73h1v1h-1zM4 74h1v1h-1z"/>
<path fill="#f8cd37" d="M43 49h1v1h-1zM20 58h1v1h-1zM27 59h1v1h-1zM21 60h1v1h-1zM23 60h1v1h-1zM15 66h1v1h-1zM8 67h1v1h-1zM15 69h1v1h-1zM3 70h1v1h-1zM1 72h1v1h-1z"/>
<path fill="#f7d13d" d="M26 60h1v1h-1zM12 66h1v1h-1zM2 70h1v1h-1zM4 70h1v1h-1zM2 72h1v1h-1zM11 73h1v1h-1zM9 74h1v1h-1z"/>
<path fill="#f7d340" d="M15 67h1v1h-1zM15 68h1v1h-1zM1 70h1v1h-1zM1 71h2v1h-2zM3 72h1v1h-1zM5 74h1v1h-1z"/>
<path fill="#f6d746" d="M22 57h1v1h-1zM19 59h1v1h-1zM24 60h1v1h-1zM13 66h2v1h-2zM9 67h2v1h-2zM14 70h1v1h-1zM3 71h1v1h-1zM13 71h1v1h-1zM4 73h1v1h-1zM8 74h1v1h-1z"/>
<path fill="#f5d949" d="M24 57h1v1h-1zM26 58h1v1h-1zM18 60h1v1h-1zM25 60h1v1h-1zM18 61h2v1h-2zM11 67h1v1h-1zM4 71h1v1h-1zM4 72h1v1h-1zM12 72h1v1h-1zM10 73h1v1h-1zM6 74h2v1h-2z"/>
<path fill="#f4dd4f" d="M20 60h1v1h-1zM7 68h1v1h-1zM5 70h1v1h-1z"/>
<path fill="#f4e156" d="M20 59h1v1h-1zM26 59h1v1h-1zM6 69h1v1h-1zM5 73h1v1h-1z"/>
<path fill="#f3e35a" d="M23 57h1v1h-1zM19 60h1v1h-1zM12 67h1v1h-1zM14 67h1v1h-1zM12 71h1v1h-1zM11 72h1v1h-1zM9 73h1v1h-1z"/>
<path fill="#f2e661" d="M13 67h1v1h-1zM8 68h1v1h-1zM10 68h2v1h-2zM14 69h1v1h-1zM13 70h1v1h-1zM5 71h1v1h-1z"/>
<path fill="#f2e865" d="M21 58h1v1h-1zM9 68h1v1h-1zM14 68h1v1h-1zM5 72h1v1h-1zM10 72h1v1h-1z"/>
<path fill="#f1ec6d" d="M21 59h1v1h-1zM12 68h1v1h-1zM12 70h1v1h-1zM11 71h1v1h-1zM6 73h1v1h-1zM8 73h1v1h-1z"/>
<path fill="#f1ef75" d="M25 58h1v1h-1zM13 68h1v1h-1zM10 69h2v1h-2zM13 69h1v1h-1zM6 70h1v1h-1zM11 70h1v1h-1zM7 73h1v1h-1z"/>
<path fill="#f1f179" d="M25 59h1v1h-1zM7 69h1v1h-1zM12 69h1v1h-1z"/>
<path fill="#f2f482" d="M9 69h1v1h-1zM10 70h1v1h-1zM6 71h1v1h-1zM10 71h1v1h-1zM6 72h1v1h-1zM9 72h1v1h-1z"/>
<path fill="#f3f586" d="M22 59h1v1h-1zM8 69h1v1h-1z"/>
<path fill="#f4f88e" d="M8 72h1v1h-1z"/>
<path fill="#f6fa96" d="M24 59h1v1h-1zM7 70h1v1h-1zM7 72h1v1h-1z"/>
<path fill="#f8fb9a" d="M22 58h1v1h-1zM24 58h1v1h-1zM23 59h1v1h-1zM9 70h1v1h-1zM7 71h1v1h-1zM9 71h1v1h-1z"/>
<path fill="#fafda1" d="M8 70h1v1h-1zM8 71h1v1h-1z"/>
<path fill="#fcffa4" d="M23 58h1v1h-1z"/>
</g></g>
<g stroke="#e8e8e8" stroke-width="0.9" fill="none"><path d="M232.4 321.5V1695"/><path d="M232.4 2499V2629"/><path d="M232 321.6H2148"/></g>
<g stroke="#ffffff" stroke-opacity="0.7" stroke-width="1.9" stroke-dasharray="2.2 3.67" fill="none"><path d="M387.7 321V2629"/><path d="M878.5 321V2629"/><path d="M1369.3 321V2629"/><path d="M1860.3 321V2629"/><path d="M232 660.1H2149"/><path d="M232 1262.4H2149"/><path d="M232 1864.8H2149"/><path d="M232 2467.1H2149"/></g>
<path d="M244.1 1734.0 L244.1 1422.9 L334.9 1332.1 L360.8 1332.1 L412.7 1280.3 L438.6 1280.3 L490.5 1228.4 L516.4 1228.4 L568.3 1176.5 L594.2 1176.5 L646.0 1124.7 L672.0 1124.7 L723.8 1072.8 L749.8 1072.8 L775.7 1046.9 L801.6 1046.9 L853.5 995.0 L879.4 995.0 L931.3 943.2 L957.2 943.2 L1009.1 891.3 L1035.0 891.3 L1086.9 839.5 L1112.8 839.5 L1164.6 787.6 L1190.6 787.6 L1242.4 735.7 L1268.4 735.7 L1320.2 683.9 L1346.2 683.9 L1372.1 657.9 L1398.0 657.9 L1449.9 606.1 L1475.8 606.1 L1527.7 554.2 L1553.6 554.2 L1605.5 502.4 L1709.2 502.4 L1774.0 567.2 L1748.1 593.1 L1748.1 696.8 L1696.2 748.7 L1696.2 774.6 L1644.4 826.5 L1644.4 852.4 L1592.5 904.3 L1592.5 930.2 L1514.7 1008.0 L1514.7 1033.9 L1411.0 1137.6 L1411.0 1163.6 L1385.0 1189.5 L1385.0 1215.4 L1333.2 1267.3 L1333.2 1293.2 L1112.8 1513.6 L1086.9 1513.6 L1035.0 1565.5 L1009.1 1565.5 L983.1 1591.4 L957.2 1591.4 L931.3 1617.3 L905.3 1617.3 L879.4 1643.3 L853.5 1643.3 L827.6 1669.2 L775.7 1669.2 L749.8 1695.1 L697.9 1695.1 L672.0 1721.1 L620.1 1721.1 L594.2 1747.0 L542.3 1747.0 L516.4 1772.9 L283.0 1772.9Z" fill="none" stroke="#ffffff" stroke-width="2.1" stroke-linejoin="miter"/>
<g stroke="#ffffff" stroke-width="2.6" fill="none"><path d="M1811.3 1083.2L1814.5 1088.3M1837.0 1082.8L1840.7 1088.8M1862.9 1082.8L1866.6 1088.8M1811.6 1109.6L1814.2 1113.8M1837.2 1109.2L1840.4 1114.3M1862.6 1108.3L1866.9 1115.1M1888.8 1108.7L1892.5 1114.7M1786.1 1136.4L1787.8 1138.9M1811.8 1136.0L1814.0 1139.3M1837.4 1135.6L1840.2 1139.7M1862.5 1134.3L1867.0 1141.0M1888.4 1134.3L1892.9 1141.0M1760.0 1161.9L1762.1 1165.3M1785.4 1161.0L1788.6 1166.1M1811.3 1161.0L1814.5 1166.1M1837.2 1161.0L1840.4 1166.1M1862.6 1160.2L1866.9 1167.0M1888.8 1160.6L1892.5 1166.5M1759.5 1186.9L1762.5 1192.1M1784.7 1185.6L1789.2 1193.4M1810.6 1185.6L1815.1 1193.4M1836.6 1185.6L1841.1 1193.4M1863.3 1186.9L1866.3 1192.1M1759.3 1212.4L1762.8 1218.5M1784.7 1211.5L1789.2 1219.3M1810.4 1211.1L1815.4 1219.8M1836.3 1211.1L1841.3 1219.8M1863.0 1212.4L1866.5 1218.5M1759.4 1238.8L1762.6 1243.9M1785.1 1238.4L1788.8 1244.3M1810.8 1238.0L1815.0 1244.8M1836.4 1237.5L1841.2 1245.2M1862.6 1238.0L1866.9 1244.8M1836.5 1264.0L1841.1 1270.6M1525.0 1191.8L1530.3 1187.3M1550.9 1191.8L1556.3 1187.3M1525.4 1217.4L1530.0 1213.5M1551.3 1217.4L1555.9 1213.5M1552.1 1242.7L1555.1 1240.1M1448.3 1320.4L1451.4 1317.9M1474.3 1320.4L1477.3 1317.9M1500.6 1320.1L1502.9 1318.2M1474.7 1345.7L1476.9 1344.4M1500.6 1345.7L1502.9 1344.4M539.6 1839.0L545.0 1836.5M565.5 1839.0L571.0 1836.5M591.5 1839.0L596.9 1836.5M566.5 1864.7L570.0 1862.7M592.5 1864.7L595.9 1862.7M644.9 1864.3L647.2 1863.0M670.8 1864.3L673.1 1863.0M696.8 1864.3L699.0 1863.0M1241.1 1476.3L1243.7 1473.2M1214.5 1503.5L1218.5 1497.8M1241.3 1502.3L1243.6 1499.0M1188.6 1529.5L1192.6 1523.7M1214.5 1529.5L1218.5 1523.7M1241.3 1528.2L1243.6 1525.0M1163.5 1554.2L1165.8 1550.9M1189.1 1554.6L1192.0 1550.5M1215.1 1554.6L1217.9 1550.5M1241.3 1554.2L1243.6 1550.9M1137.4 1580.0L1140.0 1576.9M1163.7 1579.6L1165.6 1577.3M1189.7 1579.5L1191.4 1577.5M1215.7 1579.5L1217.3 1577.5M1241.6 1579.5L1243.3 1577.5M928.1 1633.5L934.5 1627.1M953.9 1632.6L960.5 1628.0M979.5 1632.0L986.8 1628.6M1005.4 1632.0L1012.7 1628.6M1032.5 1632.0L1037.5 1628.6M1059.2 1632.1L1062.7 1628.5M1085.8 1631.4L1087.9 1629.3M928.7 1659.9L933.9 1652.6M954.3 1659.7L960.1 1652.8M980.1 1658.8L986.2 1653.7M1005.6 1658.2L1012.5 1654.2M1032.5 1658.0L1037.5 1654.5M1059.2 1658.0L1062.7 1654.5M1085.8 1657.3L1087.9 1655.2M825.7 1684.5L829.4 1679.8M851.6 1684.5L855.3 1679.8M903.5 1684.5L907.2 1679.8M928.8 1685.3L933.7 1679.0M954.1 1686.1L960.3 1678.2M980.4 1685.7L985.9 1678.6M1006.6 1685.3L1011.5 1679.0M1033.5 1684.1L1036.5 1680.2M1059.7 1683.8L1062.2 1680.6M1085.9 1683.4L1087.8 1681.0M799.7 1711.0L803.6 1705.2M824.8 1712.3L830.4 1704.0M850.4 1712.7L856.6 1703.5M876.3 1712.7L882.5 1703.5M903.1 1711.4L907.6 1704.8M929.0 1711.4L933.5 1704.8M955.2 1711.0L959.2 1705.2M981.2 1711.0L985.1 1705.2M1007.4 1710.6L1010.7 1705.6M1033.6 1710.2L1036.4 1706.0M1060.1 1709.3L1061.8 1706.9M1086.0 1709.3L1087.7 1706.9M774.6 1735.7L776.8 1732.3M799.8 1737.0L803.5 1731.1M825.2 1737.9L829.9 1730.2M850.6 1738.7L856.4 1729.4M876.5 1738.7L882.3 1729.4M903.2 1737.4L907.5 1730.6M929.7 1736.6L932.9 1731.5M955.9 1736.2L958.5 1731.9M981.8 1736.2L984.5 1731.9M1008.0 1735.7L1010.1 1732.3M1034.2 1735.3L1035.8 1732.8M1060.1 1735.3L1061.7 1732.8M1086.1 1735.3L1087.6 1732.8M774.9 1761.2L776.5 1758.7M800.3 1762.1L802.9 1757.8M825.7 1762.9L829.4 1757.0M851.1 1763.8L855.9 1756.1M877.0 1763.8L881.8 1756.1M903.5 1762.9L907.2 1757.0M930.0 1762.1L932.6 1757.8M955.9 1762.1L958.5 1757.8M982.1 1761.7L984.2 1758.3M1008.3 1761.2L1009.9 1758.7M775.0 1787.0L776.4 1784.8M800.9 1787.0L802.3 1784.8M826.8 1787.2L828.3 1784.6M852.2 1788.0L854.8 1783.8M878.1 1788.0L880.7 1783.8M904.3 1787.6L906.4 1784.2M930.2 1787.6L932.3 1784.2M956.4 1787.2L958.0 1784.6M982.3 1787.2L983.9 1784.6M774.9 1812.9L776.4 1810.8M800.9 1812.9L802.4 1810.8M826.8 1812.9L828.3 1810.8M852.3 1813.5L854.6 1810.2M878.3 1813.5L880.6 1810.2M930.5 1812.9L932.0 1810.8M956.5 1812.9L958.0 1810.8M982.4 1812.9L983.9 1810.8M1008.3 1812.9L1009.8 1810.8M1034.2 1812.9L1035.7 1810.8M748.6 1838.4L750.9 1837.1M774.6 1838.4L776.8 1837.1M800.5 1838.4L802.8 1837.1M852.4 1838.4L854.6 1837.1M878.3 1838.4L880.5 1837.1M904.2 1838.4L906.5 1837.1M930.1 1838.4L932.4 1837.1M956.1 1838.4L958.3 1837.1M982.0 1838.4L984.3 1837.1M1007.9 1838.4L1010.2 1837.1M1033.9 1838.4L1036.1 1837.1M1059.8 1838.4L1062.1 1837.1M1085.7 1838.4L1088.0 1837.1M774.6 1864.3L776.8 1863.0M800.5 1864.3L802.8 1863.0M826.4 1864.3L828.7 1863.0M852.4 1864.3L854.6 1863.0M878.3 1864.3L880.5 1863.0M904.2 1864.3L906.5 1863.0M930.1 1864.3L932.4 1863.0M956.1 1864.3L958.3 1863.0M982.0 1864.3L984.3 1863.0M1007.9 1864.3L1010.2 1863.0M1033.9 1864.3L1036.1 1863.0M1059.8 1864.3L1062.1 1863.0M1085.7 1864.3L1088.0 1863.0M1189.4 1656.9L1191.7 1655.6M1189.4 1682.8L1191.7 1681.5M1344.4 1425.9L1347.9 1419.8M1370.6 1425.5L1373.6 1420.3M1397.4 1424.0L1398.7 1421.7M1526.4 1423.6L1529.0 1422.1M1318.8 1450.9L1321.7 1446.8M1344.4 1451.3L1347.9 1446.3M1370.4 1451.3L1373.8 1446.3M1397.3 1449.9L1398.8 1447.7M1526.4 1449.6L1529.0 1448.1M1267.4 1475.7L1269.3 1473.8M1293.4 1475.7L1295.2 1473.8M1319.3 1475.7L1321.1 1473.8M1344.7 1476.1L1347.6 1473.3M1370.7 1476.1L1373.5 1473.3M1397.1 1475.7L1398.9 1473.8M1501.6 1476.7L1501.9 1472.7M1527.4 1477.7L1527.9 1471.7M1553.4 1477.2L1553.8 1472.2M1682.5 1479.2L1684.0 1470.3M1708.4 1479.2L1710.0 1470.3M1267.2 1501.3L1269.5 1500.0M1293.2 1501.3L1295.4 1500.0M1319.1 1501.3L1321.4 1500.0M1345.0 1501.3L1347.3 1500.0M1371.0 1501.3L1373.2 1500.0M1474.7 1501.3L1476.9 1500.0M1501.2 1504.1L1502.2 1497.2M1527.0 1505.1L1528.3 1496.2M1553.0 1504.6L1554.2 1496.7M1579.2 1502.6L1579.9 1498.7M1605.1 1502.6L1605.8 1498.7M1631.0 1503.1L1631.8 1498.2M1656.8 1503.6L1657.8 1497.7M1682.6 1504.6L1683.9 1496.7M1708.5 1504.6L1709.9 1496.7M1734.7 1503.1L1735.5 1498.2M1760.5 1503.6L1761.6 1497.7M1267.2 1527.2L1269.5 1525.9M1293.2 1527.2L1295.4 1525.9M1319.1 1527.2L1321.4 1525.9M1345.0 1527.2L1347.3 1525.9M1371.0 1527.2L1373.2 1525.9M1449.4 1527.8L1450.3 1525.4M1475.1 1528.5L1476.5 1524.7M1501.0 1529.5L1502.5 1523.7M1526.8 1530.0L1528.6 1523.2M1552.8 1529.5L1554.4 1523.7M1579.0 1529.0L1580.0 1524.1M1604.9 1529.0L1606.0 1524.1M1630.8 1529.5L1632.0 1523.7M1656.7 1529.5L1657.9 1523.7M1682.6 1529.5L1683.9 1523.7M1708.7 1529.0L1709.7 1524.1M1734.7 1528.6L1735.5 1524.6M1760.5 1529.0L1761.6 1524.1M1267.2 1553.2L1269.5 1551.9M1293.2 1553.2L1295.4 1551.9M1319.1 1553.2L1321.4 1551.9M1345.0 1553.2L1347.3 1551.9M1371.0 1553.2L1373.2 1551.9M1501.2 1553.9L1502.2 1551.1M1527.2 1553.9L1528.2 1551.1M1553.1 1553.9L1554.1 1551.1M1579.0 1553.9L1580.0 1551.1M1604.8 1554.4L1606.1 1550.6M1630.7 1554.4L1632.1 1550.6M1656.6 1554.4L1658.0 1550.6M1682.6 1554.4L1683.9 1550.6M1708.5 1554.4L1709.9 1550.6M1760.7 1554.5L1761.4 1550.6M1267.2 1579.1L1269.5 1577.8M1345.0 1579.1L1347.3 1577.8M1552.5 1579.1L1554.7 1577.8M1759.9 1579.1L1762.2 1577.8M1422.8 1605.0L1425.1 1603.7M1448.7 1605.0L1451.0 1603.7M1474.7 1605.0L1476.9 1603.7M1500.6 1605.0L1502.9 1603.7M1526.5 1605.0L1528.8 1603.7M1552.5 1605.0L1554.7 1603.7M1578.4 1605.0L1580.7 1603.7M1345.0 1631.0L1347.3 1629.7M1371.0 1631.0L1373.2 1629.7M1396.9 1631.0L1399.1 1629.7M1422.8 1631.0L1425.1 1629.7M1448.7 1631.0L1451.0 1629.7M1474.7 1631.0L1476.9 1629.7M1500.6 1631.0L1502.9 1629.7M1526.5 1631.0L1528.8 1629.7M1448.7 1656.9L1451.0 1655.6M1474.7 1656.9L1476.9 1655.6M1708.0 1656.9L1710.3 1655.6M1734.0 1656.9L1736.2 1655.6M1759.9 1656.9L1762.2 1655.6M1267.2 1682.8L1269.5 1681.5M1709.2 1683.9L1709.2 1680.4M1735.1 1683.9L1735.1 1680.4M1761.0 1683.9L1761.0 1680.4M1345.5 1710.0L1346.8 1706.2M1371.4 1710.0L1372.8 1706.2M1709.1 1710.6L1709.3 1705.6M1735.0 1710.6L1735.2 1705.6M1760.9 1710.6L1761.1 1705.6M1345.2 1735.8L1347.2 1732.3M1370.8 1736.2L1373.3 1731.9M1397.0 1735.8L1399.0 1732.3M1761.0 1736.0L1761.1 1732.0M1344.7 1761.4L1347.6 1758.6M1370.3 1761.7L1373.9 1758.2M1396.2 1761.7L1399.8 1758.2M1422.2 1761.7L1425.7 1758.2M1370.7 1787.3L1373.5 1784.5M1396.2 1787.7L1399.8 1784.1M1422.2 1787.7L1425.7 1784.1M1292.6 1864.7L1296.0 1862.7M1318.5 1864.7L1322.0 1862.7M1889.5 1445.5L1891.9 1452.1M1786.4 1477.7L1787.5 1471.8M1812.5 1477.2L1813.3 1472.3M1786.3 1504.6L1787.7 1496.7M1812.5 1502.6L1813.2 1498.7M1786.2 1530.0L1787.7 1523.2M1786.5 1555.0L1787.4 1550.1M1759.9 1579.1L1762.2 1577.8M1785.8 1579.1L1788.1 1577.8M1785.8 1605.0L1788.1 1603.7M1837.7 1631.0L1840.0 1629.7M1862.0 1631.6L1867.5 1629.0M1886.9 1631.7L1894.4 1628.9M1837.7 1656.9L1840.0 1655.6M1861.4 1657.2L1868.1 1655.3M1886.3 1657.2L1895.1 1655.3M1912.8 1657.3L1920.5 1655.2M1785.8 1682.8L1788.1 1681.5M1837.7 1682.8L1840.0 1681.5M1860.8 1682.5L1868.7 1681.8M1886.2 1682.6L1895.2 1681.8M1912.7 1682.9L1920.6 1681.5M1785.8 1708.8L1788.1 1707.5M1837.5 1708.9L1840.1 1707.4M1861.8 1707.6L1867.7 1708.6M1887.2 1708.1L1894.2 1708.1M1811.8 1734.7L1814.0 1733.4M1837.7 1734.7L1840.0 1733.4M644.9 1890.3L647.2 1889.0M670.8 1890.3L673.1 1889.0M696.8 1890.3L699.0 1889.0M644.9 1916.2L647.2 1914.9M541.2 1942.1L543.5 1940.8M278.5 1967.8L287.5 1967.0M305.6 1968.3L312.3 1966.5M515.3 1968.1L517.5 1966.8M541.2 1968.1L543.5 1966.8M567.1 1968.1L569.4 1966.8M644.9 1968.1L647.2 1966.8M670.8 1968.1L673.1 1966.8M696.8 1968.1L699.0 1966.8M722.7 1968.1L725.0 1966.8M279.1 1994.0L287.0 1992.6M306.2 1994.6L311.7 1992.1M333.2 1994.3L336.6 1992.3M489.3 1994.0L491.6 1992.7M515.3 1994.0L517.5 1992.7M541.2 1994.0L543.5 1992.7M567.1 1994.0L569.4 1992.7M644.9 1994.0L647.2 1992.7M670.8 1994.0L673.1 1992.7M696.8 1994.0L699.0 1992.7M722.7 1994.0L725.0 1992.7M254.1 2019.3L260.1 2019.3M280.5 2019.3L285.5 2019.3M333.4 2020.1L336.4 2018.4M359.3 2020.1L362.3 2018.4M515.3 2019.9L517.5 2018.6M541.2 2019.9L543.5 2018.6M567.1 2019.9L569.4 2018.6M670.8 2019.9L673.1 2018.6M696.8 2019.9L699.0 2018.6M722.7 2019.9L725.0 2018.6M254.7 2044.3L259.4 2046.1M281.8 2044.8L284.2 2045.6M333.4 2046.1L336.4 2044.3M359.3 2046.1L362.3 2044.3M385.6 2045.8L387.9 2044.5M411.5 2045.8L413.8 2044.5M437.5 2045.8L439.7 2044.5M541.2 2045.8L543.5 2044.5M567.1 2045.8L569.4 2044.5M696.8 2045.8L699.0 2044.5M722.7 2045.8L725.0 2044.5M230.0 2071.8L232.3 2070.5M254.8 2070.1L259.4 2072.2M333.8 2071.8L336.0 2070.5M359.7 2071.8L361.9 2070.5M385.6 2071.8L387.9 2070.5M411.5 2071.8L413.8 2070.5M437.5 2071.8L439.7 2070.5M463.4 2071.8L465.7 2070.5M489.3 2071.8L491.6 2070.5M619.0 2071.8L621.2 2070.5M696.8 2071.8L699.0 2070.5M722.7 2071.8L725.0 2070.5M230.0 2097.7L232.3 2096.4M254.9 2095.8L259.3 2098.3M281.9 2097.7L284.2 2096.4M463.4 2097.7L465.7 2096.4M489.3 2097.7L491.6 2096.4M515.3 2097.7L517.5 2096.4M541.2 2097.7L543.5 2096.4M619.0 2097.7L621.2 2096.4M696.8 2097.7L699.0 2096.4M722.7 2097.7L725.0 2096.4M230.0 2123.6L232.3 2122.3M255.0 2121.6L259.1 2124.4M281.9 2123.6L284.2 2122.3M437.5 2123.6L439.7 2122.3M463.4 2123.6L465.7 2122.3M489.3 2123.6L491.6 2122.3M541.2 2123.6L543.5 2122.3M722.7 2123.6L725.0 2122.3M230.0 2149.6L232.3 2148.3M255.6 2148.0L258.6 2149.8M281.5 2148.0L284.5 2149.8M411.5 2149.6L413.8 2148.3M437.5 2149.6L439.7 2148.3M463.4 2149.6L465.7 2148.3M541.2 2149.6L543.5 2148.3M619.0 2149.6L621.2 2148.3M230.0 2175.5L232.3 2174.2M256.0 2175.5L258.2 2174.2M281.9 2175.5L284.2 2174.2M359.7 2175.5L361.9 2174.2M411.5 2175.5L413.8 2174.2M437.5 2175.5L439.7 2174.2M593.1 2175.5L595.3 2174.2M619.0 2175.5L621.2 2174.2M644.9 2175.5L647.2 2174.2M670.8 2175.5L673.1 2174.2M230.0 2201.4L232.3 2200.1M256.0 2201.4L258.2 2200.1M281.9 2201.4L284.2 2200.1M359.7 2201.4L361.9 2200.1M411.5 2201.4L413.8 2200.1M515.3 2201.4L517.5 2200.1M567.0 2201.1L569.5 2200.4M592.9 2201.1L595.4 2200.4M618.2 2201.3L622.0 2200.3M643.6 2201.4L648.5 2200.1M669.6 2201.4L674.4 2200.1M696.0 2201.3L699.8 2200.3M722.6 2201.1L725.1 2200.4M256.0 2227.4L258.2 2226.1M281.9 2227.4L284.2 2226.1M307.8 2227.4L310.1 2226.1M333.8 2227.4L336.0 2226.1M489.3 2227.4L491.6 2226.1M567.0 2226.9L569.5 2226.5M592.2 2227.1L596.2 2226.4M617.7 2227.1L622.6 2226.3M643.1 2227.2L649.0 2226.2M669.0 2227.2L674.9 2226.2M695.0 2227.2L700.9 2226.2M720.9 2227.2L726.8 2226.2M256.0 2253.3L258.2 2252.0M281.3 2253.6L284.8 2251.6M307.8 2253.3L310.1 2252.0M333.8 2253.3L336.0 2252.0M489.3 2253.3L491.6 2252.0M567.0 2252.7L569.6 2252.5M592.9 2252.7L595.5 2252.5M617.6 2252.9L622.6 2252.4M643.6 2252.9L648.5 2252.4M669.5 2252.9L674.5 2252.4M695.4 2252.9L700.4 2252.4M721.3 2252.9L726.3 2252.4M255.8 2278.8L258.4 2278.3M280.6 2279.0L285.5 2278.1M307.0 2278.9L310.9 2278.2M333.6 2278.8L336.2 2278.3M359.5 2278.8L362.1 2278.3M489.2 2278.8L491.7 2278.3M515.1 2278.8L517.7 2278.3M541.0 2278.8L543.6 2278.3M567.0 2278.8L569.5 2278.3M592.2 2278.9L596.2 2278.2M618.1 2278.9L622.1 2278.2M644.8 2278.8L647.3 2278.3M280.6 2304.9L285.5 2304.1M307.0 2304.8L310.9 2304.1M333.6 2304.7L336.2 2304.3M359.5 2304.7L362.1 2304.3M385.6 2305.1L387.9 2303.8M411.5 2305.1L413.8 2303.8M437.5 2305.1L439.7 2303.8M463.4 2305.1L465.7 2303.8M489.3 2305.1L491.6 2303.8M515.3 2305.1L517.5 2303.8M541.2 2305.1L543.5 2303.8M565.8 2304.9L570.7 2304.1M591.7 2304.9L596.6 2304.1M618.1 2304.8L622.1 2304.1M256.0 2331.1L258.2 2329.8M281.3 2331.4L284.8 2329.4M307.8 2331.1L310.1 2329.8M333.8 2331.1L336.0 2329.8M359.7 2331.1L361.9 2329.8M437.5 2331.1L439.7 2329.8M463.4 2331.1L465.7 2329.8M489.3 2331.1L491.6 2329.8M515.3 2331.1L517.5 2329.8M540.4 2330.8L544.3 2330.0M565.8 2330.9L570.7 2329.9M591.7 2330.9L596.6 2329.9M618.2 2330.8L622.1 2330.0M256.0 2357.0L258.2 2355.7M281.9 2357.0L284.2 2355.7M463.4 2357.0L465.7 2355.7M489.3 2357.0L491.6 2355.7M515.3 2357.0L517.5 2355.7M540.4 2356.8L544.3 2355.9M565.8 2356.9L570.7 2355.8M591.7 2356.9L596.6 2355.8M618.2 2356.8L622.1 2355.9M463.4 2382.9L465.7 2381.6M489.3 2382.9L491.6 2381.6M515.3 2382.9L517.5 2381.6M540.4 2382.8L544.3 2381.8M565.8 2382.9L570.7 2381.6M591.8 2382.9L596.6 2381.6M619.0 2382.9L621.2 2381.6M695.9 2382.5L699.9 2382.1M721.8 2382.5L725.8 2382.1M437.5 2408.9L439.7 2407.6M463.4 2408.9L465.7 2407.6M488.6 2408.9L492.3 2407.5M514.0 2409.1L518.7 2407.4M540.4 2408.9L544.2 2407.5M565.9 2409.1L570.6 2407.4M592.3 2408.9L596.1 2407.5M696.2 2408.2L699.7 2408.2M722.1 2408.2L725.6 2408.2M437.4 2434.6L439.8 2433.7M462.7 2434.8L466.4 2433.5M487.7 2435.3L493.2 2433.0M512.7 2435.6L520.1 2432.6M539.1 2435.5L545.6 2432.8M565.9 2435.1L570.6 2433.2M593.0 2434.6L595.4 2433.7M644.9 2434.8L647.2 2433.5M333.2 2459.1L336.6 2461.1M359.7 2459.4L361.9 2460.7M437.4 2460.6L439.8 2459.6M462.2 2461.0L466.9 2459.1M487.2 2461.4L493.7 2458.8M511.8 2461.9L521.0 2458.2M538.2 2461.8L546.5 2458.4M565.5 2461.2L571.0 2459.0M592.3 2460.8L596.0 2459.3M644.0 2460.1L648.0 2460.1M670.0 2460.1L674.0 2460.1M306.8 2484.8L311.1 2487.3M332.2 2484.7L337.6 2487.3M359.0 2485.2L362.6 2486.9M462.3 2487.1L466.8 2484.9M486.9 2487.8L494.0 2484.2M511.5 2488.5L521.3 2483.5M537.9 2488.3L546.8 2483.7M564.7 2487.8L571.8 2484.2M592.0 2487.1L596.4 2484.9M643.5 2486.0L648.5 2486.0M669.5 2486.0L674.5 2486.0M721.3 2486.0L726.3 2486.0M487.9 2513.4L493.1 2510.4M512.5 2514.2L520.3 2509.7M538.4 2514.2L546.2 2509.7M565.2 2513.7L571.3 2510.2M800.5 1890.3L802.8 1889.0M826.4 1890.3L828.7 1889.0M852.4 1890.3L854.6 1889.0M878.3 1890.3L880.5 1889.0M1059.8 1890.3L1062.1 1889.0M1085.7 1890.3L1088.0 1889.0M826.4 1916.2L828.7 1914.9M852.4 1916.2L854.6 1914.9M878.3 1916.2L880.5 1914.9M826.4 1942.1L828.7 1940.8M852.4 1942.1L854.6 1940.8M878.3 1942.1L880.5 1940.8M904.2 1942.1L906.5 1940.8M930.1 1942.1L932.4 1940.8M748.6 1968.1L750.9 1966.8M774.6 1968.1L776.8 1966.8M878.3 1968.1L880.5 1966.8M904.2 1968.1L906.5 1966.8M930.1 1968.1L932.4 1966.8M748.6 1994.0L750.9 1992.7M774.6 1994.0L776.8 1992.7M800.5 1994.0L802.8 1992.7M774.6 2019.9L776.8 2018.6M800.5 2019.9L802.8 2018.6M748.6 2045.8L750.9 2044.5M1111.7 2045.8L1113.9 2044.5M1137.6 2045.8L1139.8 2044.5M1163.5 2045.8L1165.8 2044.5M748.6 2071.8L750.9 2070.5M852.4 2071.8L854.6 2070.5M878.3 2071.8L880.5 2070.5M1033.7 2071.5L1036.3 2070.8M1059.0 2071.6L1062.9 2070.6M1085.6 2071.5L1088.1 2070.8M1110.9 2071.6L1114.7 2070.6M1136.8 2071.6L1140.6 2070.6M1162.2 2071.8L1167.1 2070.5M748.6 2097.7L750.9 2096.4M852.4 2097.7L854.6 2096.4M878.3 2097.7L880.5 2096.4M1033.7 2097.4L1036.3 2096.7M1058.5 2097.7L1063.3 2096.4M1084.4 2097.7L1089.3 2096.4M1110.9 2097.6L1114.7 2096.5M1136.3 2097.7L1141.1 2096.4M1161.7 2097.8L1167.5 2096.3M1188.6 2097.6L1192.5 2096.5M748.6 2123.6L750.9 2122.3M1033.7 2123.3L1036.3 2122.6M1058.5 2123.6L1063.3 2122.3M1084.4 2123.6L1089.3 2122.3M1111.5 2123.3L1114.0 2122.6M1136.8 2123.5L1140.6 2122.5M1161.7 2123.8L1167.5 2122.2M1188.2 2123.6L1193.0 2122.3M1007.9 2149.6L1010.2 2148.3M1033.9 2149.6L1036.1 2148.3M1059.8 2149.6L1062.1 2148.3M1085.7 2149.6L1088.0 2148.3M1162.7 2149.4L1166.6 2148.4M904.2 2175.5L906.5 2174.2M1007.8 2175.1L1010.3 2174.6M1033.7 2175.1L1036.3 2174.6M1059.0 2175.2L1062.9 2174.5M1084.9 2175.2L1088.8 2174.5M877.4 2201.1L881.4 2200.4M903.4 2201.1L907.3 2200.4M930.0 2201.0L932.6 2200.5M1007.1 2201.1L1011.0 2200.4M1032.5 2201.2L1037.5 2200.3M1058.5 2201.2L1063.4 2200.3M1083.9 2201.3L1089.8 2200.3M1110.3 2201.2L1115.2 2200.3M748.6 2227.4L750.9 2226.1M826.3 2226.9L828.8 2226.5M851.5 2227.1L855.5 2226.4M877.0 2227.1L881.9 2226.3M902.9 2227.1L907.8 2226.3M930.0 2226.9L932.6 2226.5M1007.1 2227.1L1011.0 2226.4M1032.5 2227.1L1037.5 2226.3M1058.5 2227.1L1063.4 2226.3M1083.9 2227.2L1089.8 2226.2M1110.3 2227.1L1115.2 2226.3M748.6 2253.3L750.9 2252.0M826.3 2252.9L828.8 2252.4M851.5 2253.0L855.5 2252.3M877.4 2253.0L881.4 2252.3M902.9 2253.1L907.8 2252.2M929.3 2253.0L933.2 2252.3M1058.9 2252.6L1062.9 2252.6M852.2 2278.7L854.8 2278.4M877.4 2278.8L881.4 2278.3M904.1 2278.7L906.6 2278.4M929.3 2278.8L933.3 2278.3M954.7 2278.9L959.7 2278.2M980.7 2278.9L985.6 2278.2M1006.1 2279.0L1012.0 2278.1M1032.5 2278.9L1037.5 2278.2M1058.9 2278.8L1062.9 2278.3M851.0 2304.7L856.0 2304.3M876.9 2304.7L881.9 2304.3M904.0 2304.6L906.6 2304.4M930.0 2304.6L932.6 2304.4M955.2 2304.7L959.2 2304.3M980.6 2304.7L985.6 2304.3M1006.6 2304.7L1011.6 2304.3M824.6 2330.4L830.6 2330.4M850.0 2330.6L857.0 2330.2M876.4 2330.7L882.4 2330.1M902.9 2330.9L907.8 2330.0M929.3 2330.9L933.2 2329.9M800.5 2357.0L802.8 2355.7M824.6 2356.4L830.6 2356.4M850.0 2356.7L857.0 2356.0M876.0 2357.0L882.9 2355.7M902.5 2357.4L908.2 2355.3M929.0 2357.4L933.5 2355.3M1109.7 2358.9L1115.8 2353.8M1135.7 2358.9L1141.8 2353.8M825.1 2382.3L830.1 2382.3M850.5 2382.5L856.5 2382.0M876.5 2383.1L882.3 2381.5M902.6 2383.6L908.1 2381.0M928.6 2383.6L934.0 2381.0M954.7 2382.7L959.7 2381.9M980.6 2382.3L985.6 2382.3M1109.7 2384.9L1115.8 2379.7M1135.7 2384.9L1141.8 2379.7M878.2 2408.7L880.6 2407.8M903.5 2408.9L907.2 2407.5M929.4 2408.9L933.2 2407.5M955.3 2408.9L959.1 2407.5M1214.0 2408.2L1219.0 2408.2M1239.9 2408.2L1244.9 2408.2M903.5 2434.8L907.2 2433.5M929.4 2434.8L933.2 2433.5M955.3 2434.8L959.1 2433.5M1187.6 2434.6L1193.5 2433.7M1212.5 2434.7L1220.5 2433.6M1239.0 2434.6L1245.9 2433.7M1265.4 2434.6L1271.3 2433.7M1317.9 2435.0L1322.6 2433.3M1033.1 2460.8L1036.9 2459.4M1187.6 2460.5L1193.5 2459.7M1212.6 2460.8L1220.4 2459.4M1238.5 2460.8L1246.4 2459.4M1264.9 2460.8L1271.8 2459.3M1291.7 2461.6L1296.9 2458.6M1317.2 2461.8L1323.3 2458.3M1343.4 2461.3L1348.9 2458.8M747.8 2486.0L751.8 2486.0M980.7 2486.5L985.6 2485.5M1006.1 2486.6L1012.0 2485.4M1032.1 2486.6L1037.9 2485.4M1058.5 2486.5L1063.4 2485.5M1212.7 2487.4L1220.3 2484.6M1238.2 2487.4L1246.7 2484.6M1264.7 2487.5L1272.1 2484.5M1291.4 2488.0L1297.2 2484.0M1317.5 2488.2L1323.0 2483.9M980.2 2512.7L986.0 2511.2M1005.7 2512.8L1012.5 2511.1M1031.6 2512.8L1038.4 2511.1M1136.4 2513.9L1141.0 2510.0M1162.0 2514.2L1167.3 2509.7M1213.3 2513.4L1219.7 2510.5M1318.7 1890.5L1321.7 1888.7M1344.6 1890.5L1347.7 1888.7M1318.7 1916.4L1321.7 1914.7M1498.7 1943.2L1504.8 1939.7M1524.6 1943.2L1530.7 1939.7M1498.9 1969.4L1504.6 1965.4M1524.8 1969.4L1530.5 1965.4M1472.9 2021.3L1478.7 2017.3M1395.3 2047.4L1400.7 2042.9M1473.3 2046.9L1478.3 2043.5M1395.5 2073.6L1400.5 2068.7M1524.2 2255.5L1531.1 2249.7M1497.8 2280.8L1505.6 2276.3M1523.3 2281.1L1532.0 2276.1M1291.0 2305.7L1297.6 2303.3M1316.9 2305.7L1323.5 2303.3"/></g>
<g stroke="#000000" stroke-width="2.8" fill="none"><path d="M387.7 319V310.6"/><path d="M387.7 2630V2638.4"/><path d="M878.5 319V310.6"/><path d="M878.5 2630V2638.4"/><path d="M1369.3 319V310.6"/><path d="M1369.3 2630V2638.4"/><path d="M1860.3 319V310.6"/><path d="M1860.3 2630V2638.4"/><path d="M230 660.1H221.6"/><path d="M2150 660.1H2158.4"/><path d="M230 1262.4H221.6"/><path d="M2150 1262.4H2158.4"/><path d="M230 1864.8H221.6"/><path d="M2150 1864.8H2158.4"/><path d="M230 2467.1H221.6"/><path d="M2150 2467.1H2158.4"/></g>
<g font-family="DejaVu Sans, Liberation Sans, sans-serif" fill="#000000" font-size="27.78">
<text x="387.7" y="294" text-anchor="middle">02.6<tspan font-size="19.45" dy="-10.5">s</tspan></text>
<text x="878.5" y="294" text-anchor="middle">02.4<tspan font-size="19.45" dy="-10.5">s</tspan></text>
<text x="1369.3" y="294" text-anchor="middle">02.2<tspan font-size="19.45" dy="-10.5">s</tspan></text>
<text x="1860.3" y="294" text-anchor="middle">20<tspan font-size="19.45" dy="-10.5">h</tspan><tspan dy="10.5">52</tspan><tspan font-size="19.45" dy="-10.5">m</tspan><tspan dy="10.5">02.0</tspan><tspan font-size="19.45" dy="-10.5">s</tspan></text>
<text x="211" y="667.7" text-anchor="end">-57°04'04"</text>
<text x="211" y="1270.0" text-anchor="end">06"</text>
<text x="211" y="1872.4" text-anchor="end">08"</text>
<text x="211" y="2474.7" text-anchor="end">10"</text>
<text x="1190" y="250.2" text-anchor="middle">Right Ascension (J2000)</text>
<text transform="translate(41 1474.5) rotate(-90)" text-anchor="middle">Declination (J2000)</text>
</g>
<text font-family="DejaVu Sans, Liberation Sans, sans-serif" fill="#000" font-size="33.33" x="1047.3" y="48.1" xml:space="preserve">IC5063 with <tspan font-style="italic">SNR</tspan><tspan font-style="italic" font-size="23.33" dy="5">p</tspan><tspan dy="-5" dx="5.8">≥</tspan><tspan dx="5.6"> 1 and </tspan><tspan font-style="italic" dx="2">SNR</tspan><tspan font-style="italic" font-size="23.33" dy="5">I</tspan><tspan dy="-5" dx="5.8">≥</tspan><tspan dx="7"> 10</tspan></text>
<g font-family="DejaVu Sans, Liberation Sans, sans-serif" fill="#ffffff" font-size="33.33" xml:space="preserve">
<text x="251" y="365.4"><tspan font-style="italic">F</tspan><tspan font-style="italic" font-size="23.33" dy="-14.5" dx="1">int</tspan><tspan dy="14.5" x="302.5">(4985 </tspan><tspan font-style="italic">Å</tspan>) = (23.61 ± 0.22)e-17 <tspan font-style="italic" x="825.8">ergs</tspan><tspan x="905.3">·</tspan><tspan x="921.5" font-style="italic">cm</tspan><tspan font-size="23.33" dy="-12" x="973">−2</tspan><tspan dy="12" x="1016.2">·</tspan><tspan x="1033.5" font-style="italic">s</tspan><tspan font-size="23.33" dy="-12" x="1051.8">−1</tspan><tspan dy="12" x="1094.2">·</tspan><tspan x="1110.3" font-style="italic">Å</tspan><tspan font-size="23.33" dy="-12" x="1138">−1</tspan></text>
<text x="268.5" y="374" font-size="23.33" font-style="italic">λ</text>
<text x="251" y="409.7"><tspan font-style="italic">P</tspan><tspan font-style="italic" font-size="23.33" dy="-12" dx="1">int</tspan><tspan dy="12" dx="1.6"> = 14.1 ± 1.5 %</tspan></text>
<text x="251" y="458"><tspan font-style="italic">θ</tspan><tspan font-style="italic" font-size="23.33" dy="-14.5" dx="1">int</tspan><tspan dy="14.5" dx="2"> = 111.9 ± 3.0 °</tspan></text>
<text x="271" y="467.5" font-size="23.33" font-style="italic">P</text>
</g>
<g fill="#ffffff" stroke="none"><rect x="2074.9" y="432" width="3" height="160.5"/><path d="M2076.4 411L2088.2 433.6H2064.6Z"/><rect x="1949" y="590.8" width="127.5" height="2.9"/><path d="M1926.8 592.3L1949.8 580.6V604Z"/></g>
<g font-family="DejaVu Sans Condensed, DejaVu Sans, Liberation Sans, sans-serif" fill="#ffffff" stroke="#000000" stroke-width="0.7" font-size="57.6"><text transform="translate(2113.9 385) scale(0.93 1)" text-anchor="middle">N</text><text transform="translate(1958.5 570.2) scale(0.9 1)" text-anchor="middle">E</text></g>
<rect x="270.2" y="2538" width="301.2" height="3" fill="#fff"/>
<text font-family="DejaVu Sans, Liberation Sans, sans-serif" fill="#fff" font-size="38.89" x="420.8" y="2584" text-anchor="middle">1 arcsec</text>
<rect x="1995.4" y="2537.7" width="52" height="3" fill="#fff"/>
<text font-family="DejaVu Sans, Liberation Sans, sans-serif" fill="#fff" font-size="38.89" x="1932" y="2584.2" xml:space="preserve"><tspan font-style="italic">P</tspan>= 100%</text>
<defs><linearGradient id="cb" x1="0" y1="0" x2="0" y2="1"><stop offset="0.0000" stop-color="#fcffa4"/><stop offset="0.0312" stop-color="#f3f68a"/><stop offset="0.0625" stop-color="#f2ea69"/><stop offset="0.0938" stop-color="#f5db4c"/><stop offset="0.1250" stop-color="#f9cb35"/><stop offset="0.1562" stop-color="#fbbc21"/><stop offset="0.1875" stop-color="#fcac11"/><stop offset="0.2188" stop-color="#fb9d07"/><stop offset="0.2500" stop-color="#f98e09"/><stop offset="0.2812" stop-color="#f68013"/><stop offset="0.3125" stop-color="#f1731d"/><stop offset="0.3438" stop-color="#eb6628"/><stop offset="0.3750" stop-color="#e45a31"/><stop offset="0.4062" stop-color="#db503b"/><stop offset="0.4375" stop-color="#d24644"/><stop offset="0.4688" stop-color="#c73e4c"/><stop offset="0.5000" stop-color="#bc3754"/><stop offset="0.5312" stop-color="#b0315b"/><stop offset="0.5625" stop-color="#a32c61"/><stop offset="0.5938" stop-color="#972766"/><stop offset="0.6250" stop-color="#8a226a"/><stop offset="0.6562" stop-color="#7d1e6d"/><stop offset="0.6875" stop-color="#71196e"/><stop offset="0.7188" stop-color="#64156e"/><stop offset="0.7500" stop-color="#57106e"/><stop offset="0.7812" stop-color="#4a0c6b"/><stop offset="0.8125" stop-color="#3d0965"/><stop offset="0.8438" stop-color="#2f0a5b"/><stop offset="0.8750" stop-color="#210c4a"/><stop offset="0.9062" stop-color="#150b37"/><stop offset="0.9375" stop-color="#0b0724"/><stop offset="0.9688" stop-color="#040312"/><stop offset="1.0000" stop-color="#000004"/></linearGradient></defs>
<rect x="2207.2" y="320" width="28.6" height="2309.9" fill="url(#cb)" stroke="#000" stroke-width="2.2"/>
<g stroke="#000" fill="none"><path stroke-width="2.2" d="M2237 539.2H2246.7"/><path stroke-width="2.2" d="M2237 1656.6H2246.7"/><path stroke-width="1.7" d="M2237 1320.2H2242.6"/><path stroke-width="1.7" d="M2237 1123.5H2242.6"/><path stroke-width="1.7" d="M2237 983.9H2242.6"/><path stroke-width="1.7" d="M2237 875.6H2242.6"/><path stroke-width="1.7" d="M2237 787.1H2242.6"/><path stroke-width="1.7" d="M2237 712.3H2242.6"/><path stroke-width="1.7" d="M2237 647.5H2242.6"/><path stroke-width="1.7" d="M2237 590.3H2242.6"/><path stroke-width="1.7" d="M2237 2437.6H2242.6"/><path stroke-width="1.7" d="M2237 2240.9H2242.6"/><path stroke-width="1.7" d="M2237 2101.3H2242.6"/><path stroke-width="1.7" d="M2237 1993.0H2242.6"/><path stroke-width="1.7" d="M2237 1904.5H2242.6"/><path stroke-width="1.7" d="M2237 1829.7H2242.6"/><path stroke-width="1.7" d="M2237 1764.9H2242.6"/><path stroke-width="1.7" d="M2237 1707.7H2242.6"/></g>
<text font-family="DejaVu Sans, Liberation Sans, sans-serif" fill="#000" font-size="27.78" x="2258" y="549.7">10<tspan font-size="19.45" dy="-12">−17</tspan></text>
<text font-family="DejaVu Sans, Liberation Sans, sans-serif" fill="#000" font-size="27.78" x="2258" y="1667.1">10<tspan font-size="19.45" dy="-12">−18</tspan></text>
<text font-family="DejaVu Sans, Liberation Sans, sans-serif" fill="#000" font-size="27.78" transform="translate(2371.6 1475.5) rotate(-90)" text-anchor="middle" xml:space="preserve"><tspan font-style="italic">F</tspan><tspan font-style="italic" font-size="19.45" dy="5">λ</tspan><tspan dy="-5"> [</tspan><tspan font-style="italic">ergs</tspan><tspan dx="5.6">·</tspan><tspan dx="5.6" font-style="italic">cm</tspan><tspan font-size="19.45" dy="-10" dx="2">−2</tspan><tspan dy="10" dx="7">·</tspan><tspan dx="5.6" font-style="italic">s</tspan><tspan font-size="19.45" dy="-10" dx="2">−1</tspan><tspan dy="10" dx="7">·</tspan><tspan dx="5.6" font-style="italic">Å</tspan><tspan font-size="19.45" dy="-10" dx="4">−1</tspan><tspan dy="10">]</tspan></text>
</svg>
</body></html>
